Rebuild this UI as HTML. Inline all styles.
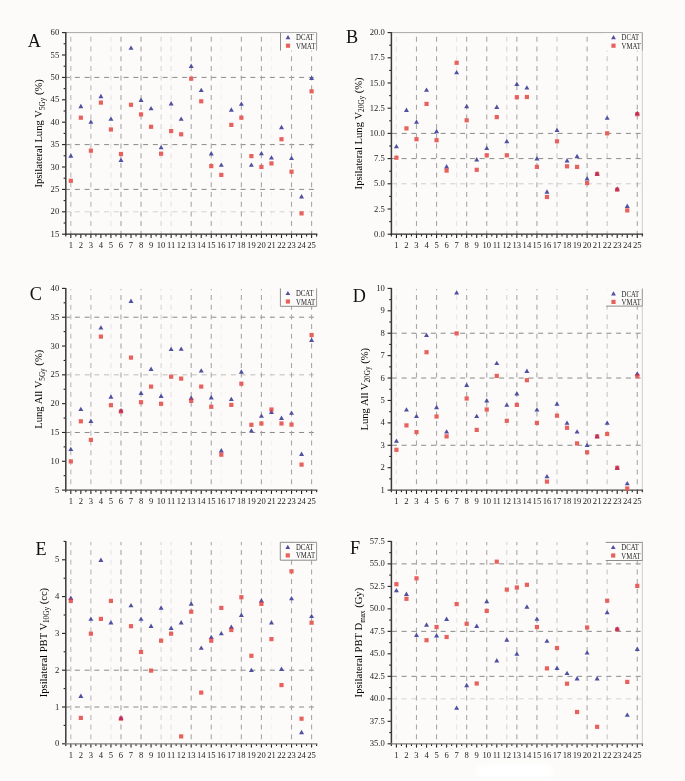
<!DOCTYPE html>
<html><head><meta charset="utf-8"><style>
html,body{margin:0;padding:0;background:#fcfbfa;}
svg{display:block;filter:blur(0.3px);}
text{font-family:"Liberation Serif",serif;}
</style></head><body>
<svg width="685" height="781" viewBox="0 0 685 781">
<defs><clipPath id="cB5"><rect x="444.50" y="168.50" width="4.2" height="4.2"/></clipPath><clipPath id="cB19"><rect x="585.00" y="180.90" width="4.2" height="4.2"/></clipPath><clipPath id="cB20"><rect x="595.04" y="171.80" width="4.2" height="4.2"/></clipPath><clipPath id="cB22"><rect x="615.11" y="187.60" width="4.2" height="4.2"/></clipPath><clipPath id="cB23"><rect x="625.15" y="208.30" width="4.2" height="4.2"/></clipPath><clipPath id="cB24"><rect x="635.18" y="112.10" width="4.2" height="4.2"/></clipPath><clipPath id="cC5"><rect x="118.88" y="409.30" width="4.2" height="4.2"/></clipPath><clipPath id="cC12"><rect x="189.10" y="398.80" width="4.2" height="4.2"/></clipPath><clipPath id="cC15"><rect x="219.20" y="452.60" width="4.2" height="4.2"/></clipPath><clipPath id="cC20"><rect x="269.36" y="407.40" width="4.2" height="4.2"/></clipPath><clipPath id="cD20"><rect x="595.04" y="434.30" width="4.2" height="4.2"/></clipPath><clipPath id="cD22"><rect x="615.11" y="465.70" width="4.2" height="4.2"/></clipPath><clipPath id="cD24"><rect x="635.18" y="374.10" width="4.2" height="4.2"/></clipPath><clipPath id="cE0"><rect x="68.72" y="598.80" width="4.2" height="4.2"/></clipPath><clipPath id="cE5"><rect x="118.88" y="716.60" width="4.2" height="4.2"/></clipPath><clipPath id="cE14"><rect x="209.16" y="638.60" width="4.2" height="4.2"/></clipPath><clipPath id="cE16"><rect x="229.23" y="627.90" width="4.2" height="4.2"/></clipPath><clipPath id="cE19"><rect x="259.32" y="601.80" width="4.2" height="4.2"/></clipPath><clipPath id="cF22"><rect x="615.11" y="627.30" width="4.2" height="4.2"/></clipPath></defs>
<rect x="0" y="0" width="685" height="781" fill="#fcfbfa"/>
<filter id="pb" x="-20%" y="-50%" width="140%" height="200%"><feGaussianBlur stdDeviation="2"/></filter><rect x="477" y="764" width="76" height="14" rx="7" fill="#ffffff" filter="url(#pb)"/>
<line x1="65.80" y1="77.40" x2="316.60" y2="77.40" stroke="#8a8a8a" stroke-width="1.0" stroke-dasharray="5 4.75" stroke-dashoffset="0.7" opacity="1"/>
<line x1="65.80" y1="144.60" x2="316.60" y2="144.60" stroke="#8a8a8a" stroke-width="1.0" stroke-dasharray="5 4.75" stroke-dashoffset="0.7" opacity="1"/>
<line x1="65.80" y1="189.40" x2="316.60" y2="189.40" stroke="#8a8a8a" stroke-width="1.0" stroke-dasharray="5 4.75" stroke-dashoffset="0.7" opacity="1"/>
<line x1="65.80" y1="211.80" x2="316.60" y2="211.80" stroke="#8a8a8a" stroke-width="1.0" stroke-dasharray="5 4.75" stroke-dashoffset="0.7" opacity="0.35"/>
<line x1="70.82" y1="33.20" x2="70.82" y2="234.20" stroke="#a8a8a8" stroke-width="1.1" stroke-dasharray="5 4.7" stroke-dashoffset="-3.60" opacity="0.8"/>
<line x1="90.88" y1="33.20" x2="90.88" y2="234.20" stroke="#a8a8a8" stroke-width="1.1" stroke-dasharray="5 4.7" stroke-dashoffset="-3.60" opacity="0.8"/>
<line x1="110.94" y1="33.20" x2="110.94" y2="234.20" stroke="#a8a8a8" stroke-width="1.1" stroke-dasharray="5 4.7" stroke-dashoffset="-3.60" opacity="0.25"/>
<line x1="120.98" y1="33.20" x2="120.98" y2="234.20" stroke="#a8a8a8" stroke-width="1.1" stroke-dasharray="5 4.7" stroke-dashoffset="-3.60" opacity="1"/>
<line x1="141.04" y1="33.20" x2="141.04" y2="234.20" stroke="#a8a8a8" stroke-width="1.1" stroke-dasharray="5 4.7" stroke-dashoffset="-3.60" opacity="1"/>
<line x1="161.10" y1="33.20" x2="161.10" y2="234.20" stroke="#a8a8a8" stroke-width="1.1" stroke-dasharray="5 4.7" stroke-dashoffset="-3.60" opacity="0.45"/>
<line x1="171.14" y1="33.20" x2="171.14" y2="234.20" stroke="#a8a8a8" stroke-width="1.1" stroke-dasharray="5 4.7" stroke-dashoffset="-3.60" opacity="0.3"/>
<line x1="191.20" y1="33.20" x2="191.20" y2="234.20" stroke="#a8a8a8" stroke-width="1.1" stroke-dasharray="5 4.7" stroke-dashoffset="-3.60" opacity="1"/>
<line x1="211.26" y1="33.20" x2="211.26" y2="234.20" stroke="#a8a8a8" stroke-width="1.1" stroke-dasharray="5 4.7" stroke-dashoffset="-3.60" opacity="1"/>
<line x1="221.30" y1="33.20" x2="221.30" y2="234.20" stroke="#a8a8a8" stroke-width="1.1" stroke-dasharray="5 4.7" stroke-dashoffset="-3.60" opacity="0.1"/>
<line x1="241.36" y1="33.20" x2="241.36" y2="234.20" stroke="#a8a8a8" stroke-width="1.1" stroke-dasharray="5 4.7" stroke-dashoffset="-3.60" opacity="1"/>
<line x1="261.42" y1="33.20" x2="261.42" y2="234.20" stroke="#a8a8a8" stroke-width="1.1" stroke-dasharray="5 4.7" stroke-dashoffset="-3.60" opacity="1"/>
<line x1="271.46" y1="33.20" x2="271.46" y2="234.20" stroke="#a8a8a8" stroke-width="1.1" stroke-dasharray="5 4.7" stroke-dashoffset="-3.60" opacity="0.1"/>
<line x1="291.52" y1="33.20" x2="291.52" y2="234.20" stroke="#a8a8a8" stroke-width="1.1" stroke-dasharray="5 4.7" stroke-dashoffset="-3.60" opacity="1"/>
<line x1="311.58" y1="33.20" x2="311.58" y2="234.20" stroke="#a8a8a8" stroke-width="1.1" stroke-dasharray="5 4.7" stroke-dashoffset="-3.60" opacity="1"/>
<line x1="65.80" y1="32.60" x2="316.60" y2="32.60" stroke="#a8a8a8" stroke-width="1"/>
<rect x="280.50" y="33.10" width="36.10" height="17.50" fill="#fcfbfa"/>
<line x1="280.50" y1="32.60" x2="280.50" y2="50.60" stroke="#8c8c8c" stroke-width="1"/>
<line x1="316.60" y1="32.60" x2="316.60" y2="50.60" stroke="#9a9a9a" stroke-width="1"/>
<polygon points="285.60,39.30 290.40,39.30 288.00,35.10" fill="#4f50a0"/>
<rect x="285.90" y="43.60" width="4.2" height="4.2" fill="#e8625d"/>
<text x="296.10" y="40.30" font-size="7.2" fill="#222" textLength="17.6" lengthAdjust="spacingAndGlyphs">DCAT</text>
<text x="296.10" y="48.70" font-size="7.2" fill="#222" textLength="19.2" lengthAdjust="spacingAndGlyphs">VMAT</text>
<line x1="62.00" y1="234.20" x2="65.80" y2="234.20" stroke="#222" stroke-width="1.1"/>
<text x="59.20" y="236.80" font-size="8.6" text-anchor="end" fill="#222">15</text>
<line x1="63.60" y1="223.00" x2="65.80" y2="223.00" stroke="#222" stroke-width="1.1"/>
<line x1="62.00" y1="211.80" x2="65.80" y2="211.80" stroke="#222" stroke-width="1.1"/>
<text x="59.20" y="214.40" font-size="8.6" text-anchor="end" fill="#222">20</text>
<line x1="63.60" y1="200.60" x2="65.80" y2="200.60" stroke="#222" stroke-width="1.1"/>
<line x1="62.00" y1="189.40" x2="65.80" y2="189.40" stroke="#222" stroke-width="1.1"/>
<text x="59.20" y="192.00" font-size="8.6" text-anchor="end" fill="#222">25</text>
<line x1="63.60" y1="178.20" x2="65.80" y2="178.20" stroke="#222" stroke-width="1.1"/>
<line x1="62.00" y1="167.00" x2="65.80" y2="167.00" stroke="#222" stroke-width="1.1"/>
<text x="59.20" y="169.60" font-size="8.6" text-anchor="end" fill="#222">30</text>
<line x1="63.60" y1="155.80" x2="65.80" y2="155.80" stroke="#222" stroke-width="1.1"/>
<line x1="62.00" y1="144.60" x2="65.80" y2="144.60" stroke="#222" stroke-width="1.1"/>
<text x="59.20" y="147.20" font-size="8.6" text-anchor="end" fill="#222">35</text>
<line x1="63.60" y1="133.40" x2="65.80" y2="133.40" stroke="#222" stroke-width="1.1"/>
<line x1="62.00" y1="122.20" x2="65.80" y2="122.20" stroke="#222" stroke-width="1.1"/>
<text x="59.20" y="124.80" font-size="8.6" text-anchor="end" fill="#222">40</text>
<line x1="63.60" y1="111.00" x2="65.80" y2="111.00" stroke="#222" stroke-width="1.1"/>
<line x1="62.00" y1="99.80" x2="65.80" y2="99.80" stroke="#222" stroke-width="1.1"/>
<text x="59.20" y="102.40" font-size="8.6" text-anchor="end" fill="#222">45</text>
<line x1="63.60" y1="88.60" x2="65.80" y2="88.60" stroke="#222" stroke-width="1.1"/>
<line x1="62.00" y1="77.40" x2="65.80" y2="77.40" stroke="#222" stroke-width="1.1"/>
<text x="59.20" y="80.00" font-size="8.6" text-anchor="end" fill="#222">50</text>
<line x1="63.60" y1="66.20" x2="65.80" y2="66.20" stroke="#222" stroke-width="1.1"/>
<line x1="62.00" y1="55.00" x2="65.80" y2="55.00" stroke="#222" stroke-width="1.1"/>
<text x="59.20" y="57.60" font-size="8.6" text-anchor="end" fill="#222">55</text>
<line x1="63.60" y1="43.80" x2="65.80" y2="43.80" stroke="#222" stroke-width="1.1"/>
<line x1="62.00" y1="32.60" x2="65.80" y2="32.60" stroke="#222" stroke-width="1.1"/>
<text x="59.20" y="35.20" font-size="8.6" text-anchor="end" fill="#222">60</text>
<line x1="65.80" y1="234.20" x2="65.80" y2="236.40" stroke="#222" stroke-width="1.1"/>
<line x1="70.82" y1="234.20" x2="70.82" y2="238.00" stroke="#222" stroke-width="1.1"/>
<text x="70.82" y="248.20" font-size="8.6" text-anchor="middle" fill="#222">1</text>
<line x1="75.83" y1="234.20" x2="75.83" y2="236.40" stroke="#222" stroke-width="1.1"/>
<line x1="80.85" y1="234.20" x2="80.85" y2="238.00" stroke="#222" stroke-width="1.1"/>
<text x="80.85" y="248.20" font-size="8.6" text-anchor="middle" fill="#222">2</text>
<line x1="85.86" y1="234.20" x2="85.86" y2="236.40" stroke="#222" stroke-width="1.1"/>
<line x1="90.88" y1="234.20" x2="90.88" y2="238.00" stroke="#222" stroke-width="1.1"/>
<text x="90.88" y="248.20" font-size="8.6" text-anchor="middle" fill="#222">3</text>
<line x1="95.90" y1="234.20" x2="95.90" y2="236.40" stroke="#222" stroke-width="1.1"/>
<line x1="100.91" y1="234.20" x2="100.91" y2="238.00" stroke="#222" stroke-width="1.1"/>
<text x="100.91" y="248.20" font-size="8.6" text-anchor="middle" fill="#222">4</text>
<line x1="105.93" y1="234.20" x2="105.93" y2="236.40" stroke="#222" stroke-width="1.1"/>
<line x1="110.94" y1="234.20" x2="110.94" y2="238.00" stroke="#222" stroke-width="1.1"/>
<text x="110.94" y="248.20" font-size="8.6" text-anchor="middle" fill="#222">5</text>
<line x1="115.96" y1="234.20" x2="115.96" y2="236.40" stroke="#222" stroke-width="1.1"/>
<line x1="120.98" y1="234.20" x2="120.98" y2="238.00" stroke="#222" stroke-width="1.1"/>
<text x="120.98" y="248.20" font-size="8.6" text-anchor="middle" fill="#222">6</text>
<line x1="125.99" y1="234.20" x2="125.99" y2="236.40" stroke="#222" stroke-width="1.1"/>
<line x1="131.01" y1="234.20" x2="131.01" y2="238.00" stroke="#222" stroke-width="1.1"/>
<text x="131.01" y="248.20" font-size="8.6" text-anchor="middle" fill="#222">7</text>
<line x1="136.02" y1="234.20" x2="136.02" y2="236.40" stroke="#222" stroke-width="1.1"/>
<line x1="141.04" y1="234.20" x2="141.04" y2="238.00" stroke="#222" stroke-width="1.1"/>
<text x="141.04" y="248.20" font-size="8.6" text-anchor="middle" fill="#222">8</text>
<line x1="146.06" y1="234.20" x2="146.06" y2="236.40" stroke="#222" stroke-width="1.1"/>
<line x1="151.07" y1="234.20" x2="151.07" y2="238.00" stroke="#222" stroke-width="1.1"/>
<text x="151.07" y="248.20" font-size="8.6" text-anchor="middle" fill="#222">9</text>
<line x1="156.09" y1="234.20" x2="156.09" y2="236.40" stroke="#222" stroke-width="1.1"/>
<line x1="161.10" y1="234.20" x2="161.10" y2="238.00" stroke="#222" stroke-width="1.1"/>
<text x="161.10" y="248.20" font-size="8.6" text-anchor="middle" fill="#222">10</text>
<line x1="166.12" y1="234.20" x2="166.12" y2="236.40" stroke="#222" stroke-width="1.1"/>
<line x1="171.14" y1="234.20" x2="171.14" y2="238.00" stroke="#222" stroke-width="1.1"/>
<text x="171.14" y="248.20" font-size="8.6" text-anchor="middle" fill="#222">11</text>
<line x1="176.15" y1="234.20" x2="176.15" y2="236.40" stroke="#222" stroke-width="1.1"/>
<line x1="181.17" y1="234.20" x2="181.17" y2="238.00" stroke="#222" stroke-width="1.1"/>
<text x="181.17" y="248.20" font-size="8.6" text-anchor="middle" fill="#222">12</text>
<line x1="186.18" y1="234.20" x2="186.18" y2="236.40" stroke="#222" stroke-width="1.1"/>
<line x1="191.20" y1="234.20" x2="191.20" y2="238.00" stroke="#222" stroke-width="1.1"/>
<text x="191.20" y="248.20" font-size="8.6" text-anchor="middle" fill="#222">13</text>
<line x1="196.22" y1="234.20" x2="196.22" y2="236.40" stroke="#222" stroke-width="1.1"/>
<line x1="201.23" y1="234.20" x2="201.23" y2="238.00" stroke="#222" stroke-width="1.1"/>
<text x="201.23" y="248.20" font-size="8.6" text-anchor="middle" fill="#222">14</text>
<line x1="206.25" y1="234.20" x2="206.25" y2="236.40" stroke="#222" stroke-width="1.1"/>
<line x1="211.26" y1="234.20" x2="211.26" y2="238.00" stroke="#222" stroke-width="1.1"/>
<text x="211.26" y="248.20" font-size="8.6" text-anchor="middle" fill="#222">15</text>
<line x1="216.28" y1="234.20" x2="216.28" y2="236.40" stroke="#222" stroke-width="1.1"/>
<line x1="221.30" y1="234.20" x2="221.30" y2="238.00" stroke="#222" stroke-width="1.1"/>
<text x="221.30" y="248.20" font-size="8.6" text-anchor="middle" fill="#222">16</text>
<line x1="226.31" y1="234.20" x2="226.31" y2="236.40" stroke="#222" stroke-width="1.1"/>
<line x1="231.33" y1="234.20" x2="231.33" y2="238.00" stroke="#222" stroke-width="1.1"/>
<text x="231.33" y="248.20" font-size="8.6" text-anchor="middle" fill="#222">17</text>
<line x1="236.34" y1="234.20" x2="236.34" y2="236.40" stroke="#222" stroke-width="1.1"/>
<line x1="241.36" y1="234.20" x2="241.36" y2="238.00" stroke="#222" stroke-width="1.1"/>
<text x="241.36" y="248.20" font-size="8.6" text-anchor="middle" fill="#222">18</text>
<line x1="246.38" y1="234.20" x2="246.38" y2="236.40" stroke="#222" stroke-width="1.1"/>
<line x1="251.39" y1="234.20" x2="251.39" y2="238.00" stroke="#222" stroke-width="1.1"/>
<text x="251.39" y="248.20" font-size="8.6" text-anchor="middle" fill="#222">19</text>
<line x1="256.41" y1="234.20" x2="256.41" y2="236.40" stroke="#222" stroke-width="1.1"/>
<line x1="261.42" y1="234.20" x2="261.42" y2="238.00" stroke="#222" stroke-width="1.1"/>
<text x="261.42" y="248.20" font-size="8.6" text-anchor="middle" fill="#222">20</text>
<line x1="266.44" y1="234.20" x2="266.44" y2="236.40" stroke="#222" stroke-width="1.1"/>
<line x1="271.46" y1="234.20" x2="271.46" y2="238.00" stroke="#222" stroke-width="1.1"/>
<text x="271.46" y="248.20" font-size="8.6" text-anchor="middle" fill="#222">21</text>
<line x1="276.47" y1="234.20" x2="276.47" y2="236.40" stroke="#222" stroke-width="1.1"/>
<line x1="281.49" y1="234.20" x2="281.49" y2="238.00" stroke="#222" stroke-width="1.1"/>
<text x="281.49" y="248.20" font-size="8.6" text-anchor="middle" fill="#222">22</text>
<line x1="286.50" y1="234.20" x2="286.50" y2="236.40" stroke="#222" stroke-width="1.1"/>
<line x1="291.52" y1="234.20" x2="291.52" y2="238.00" stroke="#222" stroke-width="1.1"/>
<text x="291.52" y="248.20" font-size="8.6" text-anchor="middle" fill="#222">23</text>
<line x1="296.54" y1="234.20" x2="296.54" y2="236.40" stroke="#222" stroke-width="1.1"/>
<line x1="301.55" y1="234.20" x2="301.55" y2="238.00" stroke="#222" stroke-width="1.1"/>
<text x="301.55" y="248.20" font-size="8.6" text-anchor="middle" fill="#222">24</text>
<line x1="306.57" y1="234.20" x2="306.57" y2="236.40" stroke="#222" stroke-width="1.1"/>
<line x1="311.58" y1="234.20" x2="311.58" y2="238.00" stroke="#222" stroke-width="1.1"/>
<text x="311.58" y="248.20" font-size="8.6" text-anchor="middle" fill="#222">25</text>
<line x1="316.60" y1="234.20" x2="316.60" y2="236.40" stroke="#222" stroke-width="1.1"/>
<line x1="65.80" y1="32.10" x2="65.80" y2="234.80" stroke="#3a3a3a" stroke-width="1.5"/>
<line x1="65.00" y1="234.20" x2="317.40" y2="234.20" stroke="#2a2a2a" stroke-width="1.3"/>
<polygon points="68.32,157.70 73.32,157.70 70.82,153.30" fill="#4f50a0"/>
<polygon points="78.35,108.20 83.35,108.20 80.85,103.80" fill="#4f50a0"/>
<polygon points="88.38,123.80 93.38,123.80 90.88,119.40" fill="#4f50a0"/>
<polygon points="98.41,98.20 103.41,98.20 100.91,93.80" fill="#4f50a0"/>
<polygon points="108.44,120.80 113.44,120.80 110.94,116.40" fill="#4f50a0"/>
<polygon points="118.48,162.00 123.48,162.00 120.98,157.60" fill="#4f50a0"/>
<polygon points="128.51,49.80 133.51,49.80 131.01,45.40" fill="#4f50a0"/>
<polygon points="138.54,102.00 143.54,102.00 141.04,97.60" fill="#4f50a0"/>
<polygon points="148.57,110.30 153.57,110.30 151.07,105.90" fill="#4f50a0"/>
<polygon points="158.60,149.30 163.60,149.30 161.10,144.90" fill="#4f50a0"/>
<polygon points="168.64,105.50 173.64,105.50 171.14,101.10" fill="#4f50a0"/>
<polygon points="178.67,120.80 183.67,120.80 181.17,116.40" fill="#4f50a0"/>
<polygon points="188.70,67.90 193.70,67.90 191.20,63.50" fill="#4f50a0"/>
<polygon points="198.73,92.10 203.73,92.10 201.23,87.70" fill="#4f50a0"/>
<polygon points="208.76,155.50 213.76,155.50 211.26,151.10" fill="#4f50a0"/>
<polygon points="218.80,166.80 223.80,166.80 221.30,162.40" fill="#4f50a0"/>
<polygon points="228.83,111.70 233.83,111.70 231.33,107.30" fill="#4f50a0"/>
<polygon points="238.86,105.80 243.86,105.80 241.36,101.40" fill="#4f50a0"/>
<polygon points="248.89,166.80 253.89,166.80 251.39,162.40" fill="#4f50a0"/>
<polygon points="258.92,155.30 263.92,155.30 261.42,150.90" fill="#4f50a0"/>
<polygon points="268.96,159.60 273.96,159.60 271.46,155.20" fill="#4f50a0"/>
<polygon points="278.99,129.20 283.99,129.20 281.49,124.80" fill="#4f50a0"/>
<polygon points="289.02,160.10 294.02,160.10 291.52,155.70" fill="#4f50a0"/>
<polygon points="299.05,198.50 304.05,198.50 301.55,194.10" fill="#4f50a0"/>
<polygon points="309.08,80.00 314.08,80.00 311.58,75.60" fill="#4f50a0"/>
<rect x="68.72" y="178.70" width="4.2" height="4.2" fill="#e8625d"/>
<rect x="78.75" y="115.60" width="4.2" height="4.2" fill="#e8625d"/>
<rect x="88.78" y="148.60" width="4.2" height="4.2" fill="#e8625d"/>
<rect x="98.81" y="100.50" width="4.2" height="4.2" fill="#e8625d"/>
<rect x="108.84" y="127.40" width="4.2" height="4.2" fill="#e8625d"/>
<rect x="118.88" y="151.90" width="4.2" height="4.2" fill="#e8625d"/>
<rect x="128.91" y="102.70" width="4.2" height="4.2" fill="#e8625d"/>
<rect x="138.94" y="112.30" width="4.2" height="4.2" fill="#e8625d"/>
<rect x="148.97" y="124.70" width="4.2" height="4.2" fill="#e8625d"/>
<rect x="159.00" y="151.60" width="4.2" height="4.2" fill="#e8625d"/>
<rect x="169.04" y="129.00" width="4.2" height="4.2" fill="#e8625d"/>
<rect x="179.07" y="132.20" width="4.2" height="4.2" fill="#e8625d"/>
<rect x="189.10" y="76.60" width="4.2" height="4.2" fill="#e8625d"/>
<rect x="199.13" y="99.20" width="4.2" height="4.2" fill="#e8625d"/>
<rect x="209.16" y="164.00" width="4.2" height="4.2" fill="#e8625d"/>
<rect x="219.20" y="172.80" width="4.2" height="4.2" fill="#e8625d"/>
<rect x="229.23" y="122.80" width="4.2" height="4.2" fill="#e8625d"/>
<rect x="239.26" y="115.60" width="4.2" height="4.2" fill="#e8625d"/>
<rect x="249.29" y="154.00" width="4.2" height="4.2" fill="#e8625d"/>
<rect x="259.32" y="164.80" width="4.2" height="4.2" fill="#e8625d"/>
<rect x="269.36" y="161.30" width="4.2" height="4.2" fill="#e8625d"/>
<rect x="279.39" y="137.10" width="4.2" height="4.2" fill="#e8625d"/>
<rect x="289.42" y="169.60" width="4.2" height="4.2" fill="#e8625d"/>
<rect x="299.45" y="211.30" width="4.2" height="4.2" fill="#e8625d"/>
<rect x="309.48" y="89.20" width="4.2" height="4.2" fill="#e8625d"/>
<text transform="translate(42.30,133.40) rotate(-90)" text-anchor="middle" font-size="10.6" fill="#000">Ipsilateral Lung V<tspan font-size="7.2" dy="2.3">5Gy</tspan><tspan dy="-2.3"> (%)</tspan></text>
<text x="27.80" y="46.70" font-size="18.2" fill="#111">A</text>
<line x1="391.40" y1="133.40" x2="642.30" y2="133.40" stroke="#8a8a8a" stroke-width="1.0" stroke-dasharray="5 4.75" stroke-dashoffset="-0.5" opacity="1"/>
<line x1="391.40" y1="158.60" x2="642.30" y2="158.60" stroke="#8a8a8a" stroke-width="1.0" stroke-dasharray="5 4.75" stroke-dashoffset="-0.5" opacity="1"/>
<line x1="391.40" y1="183.80" x2="642.30" y2="183.80" stroke="#8a8a8a" stroke-width="1.0" stroke-dasharray="5 4.75" stroke-dashoffset="-0.5" opacity="0.4"/>
<line x1="396.42" y1="33.20" x2="396.42" y2="234.20" stroke="#a8a8a8" stroke-width="1.1" stroke-dasharray="5 4.7" stroke-dashoffset="-3.60" opacity="0.25"/>
<line x1="416.49" y1="33.20" x2="416.49" y2="234.20" stroke="#a8a8a8" stroke-width="1.1" stroke-dasharray="5 4.7" stroke-dashoffset="-3.60" opacity="1"/>
<line x1="436.56" y1="33.20" x2="436.56" y2="234.20" stroke="#a8a8a8" stroke-width="1.1" stroke-dasharray="5 4.7" stroke-dashoffset="-3.60" opacity="1"/>
<line x1="456.63" y1="33.20" x2="456.63" y2="234.20" stroke="#a8a8a8" stroke-width="1.1" stroke-dasharray="5 4.7" stroke-dashoffset="-3.60" opacity="0.25"/>
<line x1="466.67" y1="33.20" x2="466.67" y2="234.20" stroke="#a8a8a8" stroke-width="1.1" stroke-dasharray="5 4.7" stroke-dashoffset="-3.60" opacity="1"/>
<line x1="486.74" y1="33.20" x2="486.74" y2="234.20" stroke="#a8a8a8" stroke-width="1.1" stroke-dasharray="5 4.7" stroke-dashoffset="-3.60" opacity="1"/>
<line x1="506.81" y1="33.20" x2="506.81" y2="234.20" stroke="#a8a8a8" stroke-width="1.1" stroke-dasharray="5 4.7" stroke-dashoffset="-3.60" opacity="0.45"/>
<line x1="516.85" y1="33.20" x2="516.85" y2="234.20" stroke="#a8a8a8" stroke-width="1.1" stroke-dasharray="5 4.7" stroke-dashoffset="-3.60" opacity="1"/>
<line x1="536.92" y1="33.20" x2="536.92" y2="234.20" stroke="#a8a8a8" stroke-width="1.1" stroke-dasharray="5 4.7" stroke-dashoffset="-3.60" opacity="1"/>
<line x1="556.99" y1="33.20" x2="556.99" y2="234.20" stroke="#a8a8a8" stroke-width="1.1" stroke-dasharray="5 4.7" stroke-dashoffset="-3.60" opacity="0.6"/>
<line x1="587.10" y1="33.20" x2="587.10" y2="234.20" stroke="#a8a8a8" stroke-width="1.1" stroke-dasharray="5 4.7" stroke-dashoffset="-3.60" opacity="1"/>
<line x1="607.17" y1="33.20" x2="607.17" y2="234.20" stroke="#a8a8a8" stroke-width="1.1" stroke-dasharray="5 4.7" stroke-dashoffset="-3.60" opacity="0.6"/>
<line x1="637.28" y1="33.20" x2="637.28" y2="234.20" stroke="#a8a8a8" stroke-width="1.1" stroke-dasharray="5 4.7" stroke-dashoffset="-3.60" opacity="1"/>
<line x1="391.40" y1="32.60" x2="642.30" y2="32.60" stroke="#a8a8a8" stroke-width="1"/>
<line x1="642.30" y1="32.60" x2="642.30" y2="234.20" stroke="#cfcfcf" stroke-width="1"/>
<rect x="606.00" y="33.10" width="36.30" height="17.50" fill="#fcfbfa"/>
<line x1="642.30" y1="32.60" x2="642.30" y2="50.60" stroke="#9a9a9a" stroke-width="1"/>
<polygon points="611.10,39.30 615.90,39.30 613.50,35.10" fill="#4f50a0"/>
<rect x="611.40" y="43.60" width="4.2" height="4.2" fill="#e8625d"/>
<text x="621.60" y="40.30" font-size="7.2" fill="#222" textLength="17.6" lengthAdjust="spacingAndGlyphs">DCAT</text>
<text x="621.60" y="48.70" font-size="7.2" fill="#222" textLength="19.2" lengthAdjust="spacingAndGlyphs">VMAT</text>
<line x1="387.60" y1="234.20" x2="391.40" y2="234.20" stroke="#222" stroke-width="1.1"/>
<text x="384.80" y="236.80" font-size="8.6" text-anchor="end" fill="#222">0.0</text>
<line x1="389.20" y1="221.60" x2="391.40" y2="221.60" stroke="#222" stroke-width="1.1"/>
<line x1="387.60" y1="209.00" x2="391.40" y2="209.00" stroke="#222" stroke-width="1.1"/>
<text x="384.80" y="211.60" font-size="8.6" text-anchor="end" fill="#222">2.5</text>
<line x1="389.20" y1="196.40" x2="391.40" y2="196.40" stroke="#222" stroke-width="1.1"/>
<line x1="387.60" y1="183.80" x2="391.40" y2="183.80" stroke="#222" stroke-width="1.1"/>
<text x="384.80" y="186.40" font-size="8.6" text-anchor="end" fill="#222">5.0</text>
<line x1="389.20" y1="171.20" x2="391.40" y2="171.20" stroke="#222" stroke-width="1.1"/>
<line x1="387.60" y1="158.60" x2="391.40" y2="158.60" stroke="#222" stroke-width="1.1"/>
<text x="384.80" y="161.20" font-size="8.6" text-anchor="end" fill="#222">7.5</text>
<line x1="389.20" y1="146.00" x2="391.40" y2="146.00" stroke="#222" stroke-width="1.1"/>
<line x1="387.60" y1="133.40" x2="391.40" y2="133.40" stroke="#222" stroke-width="1.1"/>
<text x="384.80" y="136.00" font-size="8.6" text-anchor="end" fill="#222">10.0</text>
<line x1="389.20" y1="120.80" x2="391.40" y2="120.80" stroke="#222" stroke-width="1.1"/>
<line x1="387.60" y1="108.20" x2="391.40" y2="108.20" stroke="#222" stroke-width="1.1"/>
<text x="384.80" y="110.80" font-size="8.6" text-anchor="end" fill="#222">12.5</text>
<line x1="389.20" y1="95.60" x2="391.40" y2="95.60" stroke="#222" stroke-width="1.1"/>
<line x1="387.60" y1="83.00" x2="391.40" y2="83.00" stroke="#222" stroke-width="1.1"/>
<text x="384.80" y="85.60" font-size="8.6" text-anchor="end" fill="#222">15.0</text>
<line x1="389.20" y1="70.40" x2="391.40" y2="70.40" stroke="#222" stroke-width="1.1"/>
<line x1="387.60" y1="57.80" x2="391.40" y2="57.80" stroke="#222" stroke-width="1.1"/>
<text x="384.80" y="60.40" font-size="8.6" text-anchor="end" fill="#222">17.5</text>
<line x1="389.20" y1="45.20" x2="391.40" y2="45.20" stroke="#222" stroke-width="1.1"/>
<line x1="387.60" y1="32.60" x2="391.40" y2="32.60" stroke="#222" stroke-width="1.1"/>
<text x="384.80" y="35.20" font-size="8.6" text-anchor="end" fill="#222">20.0</text>
<line x1="391.40" y1="234.20" x2="391.40" y2="236.40" stroke="#222" stroke-width="1.1"/>
<line x1="396.42" y1="234.20" x2="396.42" y2="238.00" stroke="#222" stroke-width="1.1"/>
<text x="396.42" y="248.20" font-size="8.6" text-anchor="middle" fill="#222">1</text>
<line x1="401.44" y1="234.20" x2="401.44" y2="236.40" stroke="#222" stroke-width="1.1"/>
<line x1="406.45" y1="234.20" x2="406.45" y2="238.00" stroke="#222" stroke-width="1.1"/>
<text x="406.45" y="248.20" font-size="8.6" text-anchor="middle" fill="#222">2</text>
<line x1="411.47" y1="234.20" x2="411.47" y2="236.40" stroke="#222" stroke-width="1.1"/>
<line x1="416.49" y1="234.20" x2="416.49" y2="238.00" stroke="#222" stroke-width="1.1"/>
<text x="416.49" y="248.20" font-size="8.6" text-anchor="middle" fill="#222">3</text>
<line x1="421.51" y1="234.20" x2="421.51" y2="236.40" stroke="#222" stroke-width="1.1"/>
<line x1="426.53" y1="234.20" x2="426.53" y2="238.00" stroke="#222" stroke-width="1.1"/>
<text x="426.53" y="248.20" font-size="8.6" text-anchor="middle" fill="#222">4</text>
<line x1="431.54" y1="234.20" x2="431.54" y2="236.40" stroke="#222" stroke-width="1.1"/>
<line x1="436.56" y1="234.20" x2="436.56" y2="238.00" stroke="#222" stroke-width="1.1"/>
<text x="436.56" y="248.20" font-size="8.6" text-anchor="middle" fill="#222">5</text>
<line x1="441.58" y1="234.20" x2="441.58" y2="236.40" stroke="#222" stroke-width="1.1"/>
<line x1="446.60" y1="234.20" x2="446.60" y2="238.00" stroke="#222" stroke-width="1.1"/>
<text x="446.60" y="248.20" font-size="8.6" text-anchor="middle" fill="#222">6</text>
<line x1="451.62" y1="234.20" x2="451.62" y2="236.40" stroke="#222" stroke-width="1.1"/>
<line x1="456.63" y1="234.20" x2="456.63" y2="238.00" stroke="#222" stroke-width="1.1"/>
<text x="456.63" y="248.20" font-size="8.6" text-anchor="middle" fill="#222">7</text>
<line x1="461.65" y1="234.20" x2="461.65" y2="236.40" stroke="#222" stroke-width="1.1"/>
<line x1="466.67" y1="234.20" x2="466.67" y2="238.00" stroke="#222" stroke-width="1.1"/>
<text x="466.67" y="248.20" font-size="8.6" text-anchor="middle" fill="#222">8</text>
<line x1="471.69" y1="234.20" x2="471.69" y2="236.40" stroke="#222" stroke-width="1.1"/>
<line x1="476.71" y1="234.20" x2="476.71" y2="238.00" stroke="#222" stroke-width="1.1"/>
<text x="476.71" y="248.20" font-size="8.6" text-anchor="middle" fill="#222">9</text>
<line x1="481.72" y1="234.20" x2="481.72" y2="236.40" stroke="#222" stroke-width="1.1"/>
<line x1="486.74" y1="234.20" x2="486.74" y2="238.00" stroke="#222" stroke-width="1.1"/>
<text x="486.74" y="248.20" font-size="8.6" text-anchor="middle" fill="#222">10</text>
<line x1="491.76" y1="234.20" x2="491.76" y2="236.40" stroke="#222" stroke-width="1.1"/>
<line x1="496.78" y1="234.20" x2="496.78" y2="238.00" stroke="#222" stroke-width="1.1"/>
<text x="496.78" y="248.20" font-size="8.6" text-anchor="middle" fill="#222">11</text>
<line x1="501.80" y1="234.20" x2="501.80" y2="236.40" stroke="#222" stroke-width="1.1"/>
<line x1="506.81" y1="234.20" x2="506.81" y2="238.00" stroke="#222" stroke-width="1.1"/>
<text x="506.81" y="248.20" font-size="8.6" text-anchor="middle" fill="#222">12</text>
<line x1="511.83" y1="234.20" x2="511.83" y2="236.40" stroke="#222" stroke-width="1.1"/>
<line x1="516.85" y1="234.20" x2="516.85" y2="238.00" stroke="#222" stroke-width="1.1"/>
<text x="516.85" y="248.20" font-size="8.6" text-anchor="middle" fill="#222">13</text>
<line x1="521.87" y1="234.20" x2="521.87" y2="236.40" stroke="#222" stroke-width="1.1"/>
<line x1="526.89" y1="234.20" x2="526.89" y2="238.00" stroke="#222" stroke-width="1.1"/>
<text x="526.89" y="248.20" font-size="8.6" text-anchor="middle" fill="#222">14</text>
<line x1="531.90" y1="234.20" x2="531.90" y2="236.40" stroke="#222" stroke-width="1.1"/>
<line x1="536.92" y1="234.20" x2="536.92" y2="238.00" stroke="#222" stroke-width="1.1"/>
<text x="536.92" y="248.20" font-size="8.6" text-anchor="middle" fill="#222">15</text>
<line x1="541.94" y1="234.20" x2="541.94" y2="236.40" stroke="#222" stroke-width="1.1"/>
<line x1="546.96" y1="234.20" x2="546.96" y2="238.00" stroke="#222" stroke-width="1.1"/>
<text x="546.96" y="248.20" font-size="8.6" text-anchor="middle" fill="#222">16</text>
<line x1="551.98" y1="234.20" x2="551.98" y2="236.40" stroke="#222" stroke-width="1.1"/>
<line x1="556.99" y1="234.20" x2="556.99" y2="238.00" stroke="#222" stroke-width="1.1"/>
<text x="556.99" y="248.20" font-size="8.6" text-anchor="middle" fill="#222">17</text>
<line x1="562.01" y1="234.20" x2="562.01" y2="236.40" stroke="#222" stroke-width="1.1"/>
<line x1="567.03" y1="234.20" x2="567.03" y2="238.00" stroke="#222" stroke-width="1.1"/>
<text x="567.03" y="248.20" font-size="8.6" text-anchor="middle" fill="#222">18</text>
<line x1="572.05" y1="234.20" x2="572.05" y2="236.40" stroke="#222" stroke-width="1.1"/>
<line x1="577.07" y1="234.20" x2="577.07" y2="238.00" stroke="#222" stroke-width="1.1"/>
<text x="577.07" y="248.20" font-size="8.6" text-anchor="middle" fill="#222">19</text>
<line x1="582.08" y1="234.20" x2="582.08" y2="236.40" stroke="#222" stroke-width="1.1"/>
<line x1="587.10" y1="234.20" x2="587.10" y2="238.00" stroke="#222" stroke-width="1.1"/>
<text x="587.10" y="248.20" font-size="8.6" text-anchor="middle" fill="#222">20</text>
<line x1="592.12" y1="234.20" x2="592.12" y2="236.40" stroke="#222" stroke-width="1.1"/>
<line x1="597.14" y1="234.20" x2="597.14" y2="238.00" stroke="#222" stroke-width="1.1"/>
<text x="597.14" y="248.20" font-size="8.6" text-anchor="middle" fill="#222">21</text>
<line x1="602.16" y1="234.20" x2="602.16" y2="236.40" stroke="#222" stroke-width="1.1"/>
<line x1="607.17" y1="234.20" x2="607.17" y2="238.00" stroke="#222" stroke-width="1.1"/>
<text x="607.17" y="248.20" font-size="8.6" text-anchor="middle" fill="#222">22</text>
<line x1="612.19" y1="234.20" x2="612.19" y2="236.40" stroke="#222" stroke-width="1.1"/>
<line x1="617.21" y1="234.20" x2="617.21" y2="238.00" stroke="#222" stroke-width="1.1"/>
<text x="617.21" y="248.20" font-size="8.6" text-anchor="middle" fill="#222">23</text>
<line x1="622.23" y1="234.20" x2="622.23" y2="236.40" stroke="#222" stroke-width="1.1"/>
<line x1="627.25" y1="234.20" x2="627.25" y2="238.00" stroke="#222" stroke-width="1.1"/>
<text x="627.25" y="248.20" font-size="8.6" text-anchor="middle" fill="#222">24</text>
<line x1="632.26" y1="234.20" x2="632.26" y2="236.40" stroke="#222" stroke-width="1.1"/>
<line x1="637.28" y1="234.20" x2="637.28" y2="238.00" stroke="#222" stroke-width="1.1"/>
<text x="637.28" y="248.20" font-size="8.6" text-anchor="middle" fill="#222">25</text>
<line x1="642.30" y1="234.20" x2="642.30" y2="236.40" stroke="#222" stroke-width="1.1"/>
<line x1="391.40" y1="32.10" x2="391.40" y2="234.80" stroke="#3a3a3a" stroke-width="1.5"/>
<line x1="390.60" y1="234.20" x2="643.10" y2="234.20" stroke="#2a2a2a" stroke-width="1.3"/>
<polygon points="393.92,148.30 398.92,148.30 396.42,143.90" fill="#4f50a0"/>
<polygon points="403.95,112.00 408.95,112.00 406.45,107.60" fill="#4f50a0"/>
<polygon points="413.99,123.80 418.99,123.80 416.49,119.40" fill="#4f50a0"/>
<polygon points="424.03,91.80 429.03,91.80 426.53,87.40" fill="#4f50a0"/>
<polygon points="434.06,133.20 439.06,133.20 436.56,128.80" fill="#4f50a0"/>
<polygon points="444.10,168.40 449.10,168.40 446.60,164.00" fill="#4f50a0"/>
<polygon points="454.13,74.30 459.13,74.30 456.63,69.90" fill="#4f50a0"/>
<polygon points="464.17,108.20 469.17,108.20 466.67,103.80" fill="#4f50a0"/>
<polygon points="474.21,161.40 479.21,161.40 476.71,157.00" fill="#4f50a0"/>
<polygon points="484.24,150.10 489.24,150.10 486.74,145.70" fill="#4f50a0"/>
<polygon points="494.28,109.00 499.28,109.00 496.78,104.60" fill="#4f50a0"/>
<polygon points="504.31,143.20 509.31,143.20 506.81,138.80" fill="#4f50a0"/>
<polygon points="514.35,85.90 519.35,85.90 516.85,81.50" fill="#4f50a0"/>
<polygon points="524.39,89.60 529.39,89.60 526.89,85.20" fill="#4f50a0"/>
<polygon points="534.42,160.40 539.42,160.40 536.92,156.00" fill="#4f50a0"/>
<polygon points="544.46,193.70 549.46,193.70 546.96,189.30" fill="#4f50a0"/>
<polygon points="554.49,132.10 559.49,132.10 556.99,127.70" fill="#4f50a0"/>
<polygon points="564.53,162.50 569.53,162.50 567.03,158.10" fill="#4f50a0"/>
<polygon points="574.57,158.20 579.57,158.20 577.07,153.80" fill="#4f50a0"/>
<polygon points="584.60,180.50 589.60,180.50 587.10,176.10" fill="#4f50a0"/>
<polygon points="594.64,175.70 599.64,175.70 597.14,171.30" fill="#4f50a0"/>
<polygon points="604.67,119.80 609.67,119.80 607.17,115.40" fill="#4f50a0"/>
<polygon points="614.71,190.70 619.71,190.70 617.21,186.30" fill="#4f50a0"/>
<polygon points="624.75,208.00 629.75,208.00 627.25,203.60" fill="#4f50a0"/>
<polygon points="634.78,115.20 639.78,115.20 637.28,110.80" fill="#4f50a0"/>
<rect x="394.32" y="155.60" width="4.2" height="4.2" fill="#e8625d"/>
<rect x="404.35" y="126.30" width="4.2" height="4.2" fill="#e8625d"/>
<rect x="414.39" y="137.10" width="4.2" height="4.2" fill="#e8625d"/>
<rect x="424.43" y="101.80" width="4.2" height="4.2" fill="#e8625d"/>
<rect x="434.46" y="138.10" width="4.2" height="4.2" fill="#e8625d"/>
<rect x="444.50" y="168.50" width="4.2" height="4.2" fill="#e8625d"/>
<polygon points="444.10,168.40 449.10,168.40 446.60,164.00" fill="#be2d5c" clip-path="url(#cB5)"/>
<rect x="454.53" y="60.70" width="4.2" height="4.2" fill="#e8625d"/>
<rect x="464.57" y="118.20" width="4.2" height="4.2" fill="#e8625d"/>
<rect x="474.61" y="167.70" width="4.2" height="4.2" fill="#e8625d"/>
<rect x="484.64" y="153.20" width="4.2" height="4.2" fill="#e8625d"/>
<rect x="494.68" y="115.00" width="4.2" height="4.2" fill="#e8625d"/>
<rect x="504.71" y="153.20" width="4.2" height="4.2" fill="#e8625d"/>
<rect x="514.75" y="95.10" width="4.2" height="4.2" fill="#e8625d"/>
<rect x="524.79" y="94.90" width="4.2" height="4.2" fill="#e8625d"/>
<rect x="534.82" y="164.80" width="4.2" height="4.2" fill="#e8625d"/>
<rect x="544.86" y="194.90" width="4.2" height="4.2" fill="#e8625d"/>
<rect x="554.89" y="139.20" width="4.2" height="4.2" fill="#e8625d"/>
<rect x="564.93" y="164.20" width="4.2" height="4.2" fill="#e8625d"/>
<rect x="574.97" y="164.80" width="4.2" height="4.2" fill="#e8625d"/>
<rect x="585.00" y="180.90" width="4.2" height="4.2" fill="#e8625d"/>
<polygon points="584.60,180.50 589.60,180.50 587.10,176.10" fill="#be2d5c" clip-path="url(#cB19)"/>
<rect x="595.04" y="171.80" width="4.2" height="4.2" fill="#e8625d"/>
<polygon points="594.64,175.70 599.64,175.70 597.14,171.30" fill="#be2d5c" clip-path="url(#cB20)"/>
<rect x="605.07" y="131.20" width="4.2" height="4.2" fill="#e8625d"/>
<rect x="615.11" y="187.60" width="4.2" height="4.2" fill="#e8625d"/>
<polygon points="614.71,190.70 619.71,190.70 617.21,186.30" fill="#be2d5c" clip-path="url(#cB22)"/>
<rect x="625.15" y="208.30" width="4.2" height="4.2" fill="#e8625d"/>
<polygon points="624.75,208.00 629.75,208.00 627.25,203.60" fill="#be2d5c" clip-path="url(#cB23)"/>
<rect x="635.18" y="112.10" width="4.2" height="4.2" fill="#e8625d"/>
<polygon points="634.78,115.20 639.78,115.20 637.28,110.80" fill="#be2d5c" clip-path="url(#cB24)"/>
<text transform="translate(361.80,133.40) rotate(-90)" text-anchor="middle" font-size="10.6" fill="#000">Ipsilateral Lung V<tspan font-size="7.2" dy="2.3">20Gy</tspan><tspan dy="-2.3"> (%)</tspan></text>
<text x="346.10" y="42.90" font-size="18.2" fill="#111">B</text>
<line x1="65.80" y1="317.21" x2="316.60" y2="317.21" stroke="#8a8a8a" stroke-width="1.0" stroke-dasharray="5 4.75" stroke-dashoffset="0.7" opacity="1"/>
<line x1="65.80" y1="374.84" x2="316.60" y2="374.84" stroke="#8a8a8a" stroke-width="1.0" stroke-dasharray="5 4.75" stroke-dashoffset="0.7" opacity="0.55"/>
<line x1="65.80" y1="432.47" x2="316.60" y2="432.47" stroke="#8a8a8a" stroke-width="1.0" stroke-dasharray="5 4.75" stroke-dashoffset="0.7" opacity="1"/>
<line x1="70.82" y1="289.00" x2="70.82" y2="490.10" stroke="#a8a8a8" stroke-width="1.1" stroke-dasharray="5 4.7" stroke-dashoffset="-6.00" opacity="0.8"/>
<line x1="90.88" y1="289.00" x2="90.88" y2="490.10" stroke="#a8a8a8" stroke-width="1.1" stroke-dasharray="5 4.7" stroke-dashoffset="-6.00" opacity="0.8"/>
<line x1="110.94" y1="289.00" x2="110.94" y2="490.10" stroke="#a8a8a8" stroke-width="1.1" stroke-dasharray="5 4.7" stroke-dashoffset="-6.00" opacity="0.25"/>
<line x1="120.98" y1="289.00" x2="120.98" y2="490.10" stroke="#a8a8a8" stroke-width="1.1" stroke-dasharray="5 4.7" stroke-dashoffset="-6.00" opacity="1"/>
<line x1="141.04" y1="289.00" x2="141.04" y2="490.10" stroke="#a8a8a8" stroke-width="1.1" stroke-dasharray="5 4.7" stroke-dashoffset="-6.00" opacity="1"/>
<line x1="161.10" y1="289.00" x2="161.10" y2="490.10" stroke="#a8a8a8" stroke-width="1.1" stroke-dasharray="5 4.7" stroke-dashoffset="-6.00" opacity="0.45"/>
<line x1="171.14" y1="289.00" x2="171.14" y2="490.10" stroke="#a8a8a8" stroke-width="1.1" stroke-dasharray="5 4.7" stroke-dashoffset="-6.00" opacity="0.3"/>
<line x1="191.20" y1="289.00" x2="191.20" y2="490.10" stroke="#a8a8a8" stroke-width="1.1" stroke-dasharray="5 4.7" stroke-dashoffset="-6.00" opacity="1"/>
<line x1="211.26" y1="289.00" x2="211.26" y2="490.10" stroke="#a8a8a8" stroke-width="1.1" stroke-dasharray="5 4.7" stroke-dashoffset="-6.00" opacity="1"/>
<line x1="221.30" y1="289.00" x2="221.30" y2="490.10" stroke="#a8a8a8" stroke-width="1.1" stroke-dasharray="5 4.7" stroke-dashoffset="-6.00" opacity="0.1"/>
<line x1="241.36" y1="289.00" x2="241.36" y2="490.10" stroke="#a8a8a8" stroke-width="1.1" stroke-dasharray="5 4.7" stroke-dashoffset="-6.00" opacity="1"/>
<line x1="261.42" y1="289.00" x2="261.42" y2="490.10" stroke="#a8a8a8" stroke-width="1.1" stroke-dasharray="5 4.7" stroke-dashoffset="-6.00" opacity="1"/>
<line x1="271.46" y1="289.00" x2="271.46" y2="490.10" stroke="#a8a8a8" stroke-width="1.1" stroke-dasharray="5 4.7" stroke-dashoffset="-6.00" opacity="0.1"/>
<line x1="291.52" y1="289.00" x2="291.52" y2="490.10" stroke="#a8a8a8" stroke-width="1.1" stroke-dasharray="5 4.7" stroke-dashoffset="-6.00" opacity="1"/>
<line x1="311.58" y1="289.00" x2="311.58" y2="490.10" stroke="#a8a8a8" stroke-width="1.1" stroke-dasharray="5 4.7" stroke-dashoffset="-6.00" opacity="1"/>
<rect x="280.40" y="288.90" width="36.20" height="17.40" fill="#fcfbfa"/>
<line x1="280.40" y1="288.40" x2="280.40" y2="306.30" stroke="#8c8c8c" stroke-width="1"/>
<line x1="316.60" y1="288.40" x2="316.60" y2="306.30" stroke="#9a9a9a" stroke-width="1"/>
<line x1="280.40" y1="306.30" x2="316.60" y2="306.30" stroke="#8c8c8c" stroke-width="1"/>
<polygon points="285.50,295.10 290.30,295.10 287.90,290.90" fill="#4f50a0"/>
<rect x="285.80" y="299.40" width="4.2" height="4.2" fill="#e8625d"/>
<text x="296.00" y="296.10" font-size="7.2" fill="#222" textLength="17.6" lengthAdjust="spacingAndGlyphs">DCAT</text>
<text x="296.00" y="304.50" font-size="7.2" fill="#222" textLength="19.2" lengthAdjust="spacingAndGlyphs">VMAT</text>
<line x1="62.00" y1="490.10" x2="65.80" y2="490.10" stroke="#222" stroke-width="1.1"/>
<text x="59.20" y="492.70" font-size="8.6" text-anchor="end" fill="#222">5</text>
<line x1="63.60" y1="475.69" x2="65.80" y2="475.69" stroke="#222" stroke-width="1.1"/>
<line x1="62.00" y1="461.29" x2="65.80" y2="461.29" stroke="#222" stroke-width="1.1"/>
<text x="59.20" y="463.89" font-size="8.6" text-anchor="end" fill="#222">10</text>
<line x1="63.60" y1="446.88" x2="65.80" y2="446.88" stroke="#222" stroke-width="1.1"/>
<line x1="62.00" y1="432.47" x2="65.80" y2="432.47" stroke="#222" stroke-width="1.1"/>
<text x="59.20" y="435.07" font-size="8.6" text-anchor="end" fill="#222">15</text>
<line x1="63.60" y1="418.06" x2="65.80" y2="418.06" stroke="#222" stroke-width="1.1"/>
<line x1="62.00" y1="403.66" x2="65.80" y2="403.66" stroke="#222" stroke-width="1.1"/>
<text x="59.20" y="406.26" font-size="8.6" text-anchor="end" fill="#222">20</text>
<line x1="63.60" y1="389.25" x2="65.80" y2="389.25" stroke="#222" stroke-width="1.1"/>
<line x1="62.00" y1="374.84" x2="65.80" y2="374.84" stroke="#222" stroke-width="1.1"/>
<text x="59.20" y="377.44" font-size="8.6" text-anchor="end" fill="#222">25</text>
<line x1="63.60" y1="360.44" x2="65.80" y2="360.44" stroke="#222" stroke-width="1.1"/>
<line x1="62.00" y1="346.03" x2="65.80" y2="346.03" stroke="#222" stroke-width="1.1"/>
<text x="59.20" y="348.63" font-size="8.6" text-anchor="end" fill="#222">30</text>
<line x1="63.60" y1="331.62" x2="65.80" y2="331.62" stroke="#222" stroke-width="1.1"/>
<line x1="62.00" y1="317.21" x2="65.80" y2="317.21" stroke="#222" stroke-width="1.1"/>
<text x="59.20" y="319.81" font-size="8.6" text-anchor="end" fill="#222">35</text>
<line x1="63.60" y1="302.81" x2="65.80" y2="302.81" stroke="#222" stroke-width="1.1"/>
<line x1="62.00" y1="288.40" x2="65.80" y2="288.40" stroke="#222" stroke-width="1.1"/>
<text x="59.20" y="291.00" font-size="8.6" text-anchor="end" fill="#222">40</text>
<line x1="65.80" y1="490.10" x2="65.80" y2="492.30" stroke="#222" stroke-width="1.1"/>
<line x1="70.82" y1="490.10" x2="70.82" y2="493.90" stroke="#222" stroke-width="1.1"/>
<text x="70.82" y="504.10" font-size="8.6" text-anchor="middle" fill="#222">1</text>
<line x1="75.83" y1="490.10" x2="75.83" y2="492.30" stroke="#222" stroke-width="1.1"/>
<line x1="80.85" y1="490.10" x2="80.85" y2="493.90" stroke="#222" stroke-width="1.1"/>
<text x="80.85" y="504.10" font-size="8.6" text-anchor="middle" fill="#222">2</text>
<line x1="85.86" y1="490.10" x2="85.86" y2="492.30" stroke="#222" stroke-width="1.1"/>
<line x1="90.88" y1="490.10" x2="90.88" y2="493.90" stroke="#222" stroke-width="1.1"/>
<text x="90.88" y="504.10" font-size="8.6" text-anchor="middle" fill="#222">3</text>
<line x1="95.90" y1="490.10" x2="95.90" y2="492.30" stroke="#222" stroke-width="1.1"/>
<line x1="100.91" y1="490.10" x2="100.91" y2="493.90" stroke="#222" stroke-width="1.1"/>
<text x="100.91" y="504.10" font-size="8.6" text-anchor="middle" fill="#222">4</text>
<line x1="105.93" y1="490.10" x2="105.93" y2="492.30" stroke="#222" stroke-width="1.1"/>
<line x1="110.94" y1="490.10" x2="110.94" y2="493.90" stroke="#222" stroke-width="1.1"/>
<text x="110.94" y="504.10" font-size="8.6" text-anchor="middle" fill="#222">5</text>
<line x1="115.96" y1="490.10" x2="115.96" y2="492.30" stroke="#222" stroke-width="1.1"/>
<line x1="120.98" y1="490.10" x2="120.98" y2="493.90" stroke="#222" stroke-width="1.1"/>
<text x="120.98" y="504.10" font-size="8.6" text-anchor="middle" fill="#222">6</text>
<line x1="125.99" y1="490.10" x2="125.99" y2="492.30" stroke="#222" stroke-width="1.1"/>
<line x1="131.01" y1="490.10" x2="131.01" y2="493.90" stroke="#222" stroke-width="1.1"/>
<text x="131.01" y="504.10" font-size="8.6" text-anchor="middle" fill="#222">7</text>
<line x1="136.02" y1="490.10" x2="136.02" y2="492.30" stroke="#222" stroke-width="1.1"/>
<line x1="141.04" y1="490.10" x2="141.04" y2="493.90" stroke="#222" stroke-width="1.1"/>
<text x="141.04" y="504.10" font-size="8.6" text-anchor="middle" fill="#222">8</text>
<line x1="146.06" y1="490.10" x2="146.06" y2="492.30" stroke="#222" stroke-width="1.1"/>
<line x1="151.07" y1="490.10" x2="151.07" y2="493.90" stroke="#222" stroke-width="1.1"/>
<text x="151.07" y="504.10" font-size="8.6" text-anchor="middle" fill="#222">9</text>
<line x1="156.09" y1="490.10" x2="156.09" y2="492.30" stroke="#222" stroke-width="1.1"/>
<line x1="161.10" y1="490.10" x2="161.10" y2="493.90" stroke="#222" stroke-width="1.1"/>
<text x="161.10" y="504.10" font-size="8.6" text-anchor="middle" fill="#222">10</text>
<line x1="166.12" y1="490.10" x2="166.12" y2="492.30" stroke="#222" stroke-width="1.1"/>
<line x1="171.14" y1="490.10" x2="171.14" y2="493.90" stroke="#222" stroke-width="1.1"/>
<text x="171.14" y="504.10" font-size="8.6" text-anchor="middle" fill="#222">11</text>
<line x1="176.15" y1="490.10" x2="176.15" y2="492.30" stroke="#222" stroke-width="1.1"/>
<line x1="181.17" y1="490.10" x2="181.17" y2="493.90" stroke="#222" stroke-width="1.1"/>
<text x="181.17" y="504.10" font-size="8.6" text-anchor="middle" fill="#222">12</text>
<line x1="186.18" y1="490.10" x2="186.18" y2="492.30" stroke="#222" stroke-width="1.1"/>
<line x1="191.20" y1="490.10" x2="191.20" y2="493.90" stroke="#222" stroke-width="1.1"/>
<text x="191.20" y="504.10" font-size="8.6" text-anchor="middle" fill="#222">13</text>
<line x1="196.22" y1="490.10" x2="196.22" y2="492.30" stroke="#222" stroke-width="1.1"/>
<line x1="201.23" y1="490.10" x2="201.23" y2="493.90" stroke="#222" stroke-width="1.1"/>
<text x="201.23" y="504.10" font-size="8.6" text-anchor="middle" fill="#222">14</text>
<line x1="206.25" y1="490.10" x2="206.25" y2="492.30" stroke="#222" stroke-width="1.1"/>
<line x1="211.26" y1="490.10" x2="211.26" y2="493.90" stroke="#222" stroke-width="1.1"/>
<text x="211.26" y="504.10" font-size="8.6" text-anchor="middle" fill="#222">15</text>
<line x1="216.28" y1="490.10" x2="216.28" y2="492.30" stroke="#222" stroke-width="1.1"/>
<line x1="221.30" y1="490.10" x2="221.30" y2="493.90" stroke="#222" stroke-width="1.1"/>
<text x="221.30" y="504.10" font-size="8.6" text-anchor="middle" fill="#222">16</text>
<line x1="226.31" y1="490.10" x2="226.31" y2="492.30" stroke="#222" stroke-width="1.1"/>
<line x1="231.33" y1="490.10" x2="231.33" y2="493.90" stroke="#222" stroke-width="1.1"/>
<text x="231.33" y="504.10" font-size="8.6" text-anchor="middle" fill="#222">17</text>
<line x1="236.34" y1="490.10" x2="236.34" y2="492.30" stroke="#222" stroke-width="1.1"/>
<line x1="241.36" y1="490.10" x2="241.36" y2="493.90" stroke="#222" stroke-width="1.1"/>
<text x="241.36" y="504.10" font-size="8.6" text-anchor="middle" fill="#222">18</text>
<line x1="246.38" y1="490.10" x2="246.38" y2="492.30" stroke="#222" stroke-width="1.1"/>
<line x1="251.39" y1="490.10" x2="251.39" y2="493.90" stroke="#222" stroke-width="1.1"/>
<text x="251.39" y="504.10" font-size="8.6" text-anchor="middle" fill="#222">19</text>
<line x1="256.41" y1="490.10" x2="256.41" y2="492.30" stroke="#222" stroke-width="1.1"/>
<line x1="261.42" y1="490.10" x2="261.42" y2="493.90" stroke="#222" stroke-width="1.1"/>
<text x="261.42" y="504.10" font-size="8.6" text-anchor="middle" fill="#222">20</text>
<line x1="266.44" y1="490.10" x2="266.44" y2="492.30" stroke="#222" stroke-width="1.1"/>
<line x1="271.46" y1="490.10" x2="271.46" y2="493.90" stroke="#222" stroke-width="1.1"/>
<text x="271.46" y="504.10" font-size="8.6" text-anchor="middle" fill="#222">21</text>
<line x1="276.47" y1="490.10" x2="276.47" y2="492.30" stroke="#222" stroke-width="1.1"/>
<line x1="281.49" y1="490.10" x2="281.49" y2="493.90" stroke="#222" stroke-width="1.1"/>
<text x="281.49" y="504.10" font-size="8.6" text-anchor="middle" fill="#222">22</text>
<line x1="286.50" y1="490.10" x2="286.50" y2="492.30" stroke="#222" stroke-width="1.1"/>
<line x1="291.52" y1="490.10" x2="291.52" y2="493.90" stroke="#222" stroke-width="1.1"/>
<text x="291.52" y="504.10" font-size="8.6" text-anchor="middle" fill="#222">23</text>
<line x1="296.54" y1="490.10" x2="296.54" y2="492.30" stroke="#222" stroke-width="1.1"/>
<line x1="301.55" y1="490.10" x2="301.55" y2="493.90" stroke="#222" stroke-width="1.1"/>
<text x="301.55" y="504.10" font-size="8.6" text-anchor="middle" fill="#222">24</text>
<line x1="306.57" y1="490.10" x2="306.57" y2="492.30" stroke="#222" stroke-width="1.1"/>
<line x1="311.58" y1="490.10" x2="311.58" y2="493.90" stroke="#222" stroke-width="1.1"/>
<text x="311.58" y="504.10" font-size="8.6" text-anchor="middle" fill="#222">25</text>
<line x1="316.60" y1="490.10" x2="316.60" y2="492.30" stroke="#222" stroke-width="1.1"/>
<line x1="65.80" y1="287.90" x2="65.80" y2="490.70" stroke="#3a3a3a" stroke-width="1.5"/>
<line x1="65.00" y1="490.10" x2="317.40" y2="490.10" stroke="#4a4a4a" stroke-width="1.3"/>
<polygon points="68.32,451.10 73.32,451.10 70.82,446.70" fill="#4f50a0"/>
<polygon points="78.35,411.10 83.35,411.10 80.85,406.70" fill="#4f50a0"/>
<polygon points="88.38,422.90 93.38,422.90 90.88,418.50" fill="#4f50a0"/>
<polygon points="98.41,329.60 103.41,329.60 100.91,325.20" fill="#4f50a0"/>
<polygon points="108.44,398.70 113.44,398.70 110.94,394.30" fill="#4f50a0"/>
<polygon points="118.48,412.40 123.48,412.40 120.98,408.00" fill="#4f50a0"/>
<polygon points="128.51,303.00 133.51,303.00 131.01,298.60" fill="#4f50a0"/>
<polygon points="138.54,394.90 143.54,394.90 141.04,390.50" fill="#4f50a0"/>
<polygon points="148.57,371.00 153.57,371.00 151.07,366.60" fill="#4f50a0"/>
<polygon points="158.60,397.90 163.60,397.90 161.10,393.50" fill="#4f50a0"/>
<polygon points="168.64,351.10 173.64,351.10 171.14,346.70" fill="#4f50a0"/>
<polygon points="178.67,350.80 183.67,350.80 181.17,346.40" fill="#4f50a0"/>
<polygon points="188.70,399.80 193.70,399.80 191.20,395.40" fill="#4f50a0"/>
<polygon points="198.73,372.60 203.73,372.60 201.23,368.20" fill="#4f50a0"/>
<polygon points="208.76,399.50 213.76,399.50 211.26,395.10" fill="#4f50a0"/>
<polygon points="218.80,452.50 223.80,452.50 221.30,448.10" fill="#4f50a0"/>
<polygon points="228.83,401.10 233.83,401.10 231.33,396.70" fill="#4f50a0"/>
<polygon points="238.86,373.70 243.86,373.70 241.36,369.30" fill="#4f50a0"/>
<polygon points="248.89,432.60 253.89,432.60 251.39,428.20" fill="#4f50a0"/>
<polygon points="258.92,417.80 263.92,417.80 261.42,413.40" fill="#4f50a0"/>
<polygon points="268.96,414.00 273.96,414.00 271.46,409.60" fill="#4f50a0"/>
<polygon points="278.99,419.90 283.99,419.90 281.49,415.50" fill="#4f50a0"/>
<polygon points="289.02,414.80 294.02,414.80 291.52,410.40" fill="#4f50a0"/>
<polygon points="299.05,456.00 304.05,456.00 301.55,451.60" fill="#4f50a0"/>
<polygon points="309.08,342.00 314.08,342.00 311.58,337.60" fill="#4f50a0"/>
<rect x="68.72" y="459.30" width="4.2" height="4.2" fill="#e8625d"/>
<rect x="78.75" y="419.20" width="4.2" height="4.2" fill="#e8625d"/>
<rect x="88.78" y="437.80" width="4.2" height="4.2" fill="#e8625d"/>
<rect x="98.81" y="334.50" width="4.2" height="4.2" fill="#e8625d"/>
<rect x="108.84" y="403.10" width="4.2" height="4.2" fill="#e8625d"/>
<rect x="118.88" y="409.30" width="4.2" height="4.2" fill="#e8625d"/>
<polygon points="118.48,412.40 123.48,412.40 120.98,408.00" fill="#be2d5c" clip-path="url(#cC5)"/>
<rect x="128.91" y="355.50" width="4.2" height="4.2" fill="#e8625d"/>
<rect x="138.94" y="400.10" width="4.2" height="4.2" fill="#e8625d"/>
<rect x="148.97" y="384.50" width="4.2" height="4.2" fill="#e8625d"/>
<rect x="159.00" y="401.70" width="4.2" height="4.2" fill="#e8625d"/>
<rect x="169.04" y="374.60" width="4.2" height="4.2" fill="#e8625d"/>
<rect x="179.07" y="376.50" width="4.2" height="4.2" fill="#e8625d"/>
<rect x="189.10" y="398.80" width="4.2" height="4.2" fill="#e8625d"/>
<polygon points="188.70,399.80 193.70,399.80 191.20,395.40" fill="#be2d5c" clip-path="url(#cC12)"/>
<rect x="199.13" y="384.50" width="4.2" height="4.2" fill="#e8625d"/>
<rect x="209.16" y="404.70" width="4.2" height="4.2" fill="#e8625d"/>
<rect x="219.20" y="452.60" width="4.2" height="4.2" fill="#e8625d"/>
<polygon points="218.80,452.50 223.80,452.50 221.30,448.10" fill="#be2d5c" clip-path="url(#cC15)"/>
<rect x="229.23" y="402.80" width="4.2" height="4.2" fill="#e8625d"/>
<rect x="239.26" y="381.60" width="4.2" height="4.2" fill="#e8625d"/>
<rect x="249.29" y="422.70" width="4.2" height="4.2" fill="#e8625d"/>
<rect x="259.32" y="421.40" width="4.2" height="4.2" fill="#e8625d"/>
<rect x="269.36" y="407.40" width="4.2" height="4.2" fill="#e8625d"/>
<polygon points="268.96,414.00 273.96,414.00 271.46,409.60" fill="#be2d5c" clip-path="url(#cC20)"/>
<rect x="279.39" y="421.40" width="4.2" height="4.2" fill="#e8625d"/>
<rect x="289.42" y="422.50" width="4.2" height="4.2" fill="#e8625d"/>
<rect x="299.45" y="462.50" width="4.2" height="4.2" fill="#e8625d"/>
<rect x="309.48" y="332.90" width="4.2" height="4.2" fill="#e8625d"/>
<text transform="translate(42.30,389.25) rotate(-90)" text-anchor="middle" font-size="10.6" fill="#000">Lung All V<tspan font-size="7.2" dy="2.3">5Gy</tspan><tspan dy="-2.3"> (%)</tspan></text>
<text x="29.70" y="299.60" font-size="18.2" fill="#111">C</text>
<line x1="391.40" y1="333.22" x2="642.30" y2="333.22" stroke="#8a8a8a" stroke-width="1.0" stroke-dasharray="5 4.75" stroke-dashoffset="-0.5" opacity="1"/>
<line x1="391.40" y1="378.04" x2="642.30" y2="378.04" stroke="#8a8a8a" stroke-width="1.0" stroke-dasharray="5 4.75" stroke-dashoffset="-0.5" opacity="1"/>
<line x1="391.40" y1="445.28" x2="642.30" y2="445.28" stroke="#8a8a8a" stroke-width="1.0" stroke-dasharray="5 4.75" stroke-dashoffset="-0.5" opacity="1"/>
<line x1="396.42" y1="289.00" x2="396.42" y2="490.10" stroke="#a8a8a8" stroke-width="1.1" stroke-dasharray="5 4.7" stroke-dashoffset="-6.00" opacity="0.25"/>
<line x1="416.49" y1="289.00" x2="416.49" y2="490.10" stroke="#a8a8a8" stroke-width="1.1" stroke-dasharray="5 4.7" stroke-dashoffset="-6.00" opacity="1"/>
<line x1="436.56" y1="289.00" x2="436.56" y2="490.10" stroke="#a8a8a8" stroke-width="1.1" stroke-dasharray="5 4.7" stroke-dashoffset="-6.00" opacity="1"/>
<line x1="456.63" y1="289.00" x2="456.63" y2="490.10" stroke="#a8a8a8" stroke-width="1.1" stroke-dasharray="5 4.7" stroke-dashoffset="-6.00" opacity="0.25"/>
<line x1="466.67" y1="289.00" x2="466.67" y2="490.10" stroke="#a8a8a8" stroke-width="1.1" stroke-dasharray="5 4.7" stroke-dashoffset="-6.00" opacity="1"/>
<line x1="486.74" y1="289.00" x2="486.74" y2="490.10" stroke="#a8a8a8" stroke-width="1.1" stroke-dasharray="5 4.7" stroke-dashoffset="-6.00" opacity="1"/>
<line x1="506.81" y1="289.00" x2="506.81" y2="490.10" stroke="#a8a8a8" stroke-width="1.1" stroke-dasharray="5 4.7" stroke-dashoffset="-6.00" opacity="0.45"/>
<line x1="516.85" y1="289.00" x2="516.85" y2="490.10" stroke="#a8a8a8" stroke-width="1.1" stroke-dasharray="5 4.7" stroke-dashoffset="-6.00" opacity="1"/>
<line x1="536.92" y1="289.00" x2="536.92" y2="490.10" stroke="#a8a8a8" stroke-width="1.1" stroke-dasharray="5 4.7" stroke-dashoffset="-6.00" opacity="1"/>
<line x1="556.99" y1="289.00" x2="556.99" y2="490.10" stroke="#a8a8a8" stroke-width="1.1" stroke-dasharray="5 4.7" stroke-dashoffset="-6.00" opacity="0.6"/>
<line x1="587.10" y1="289.00" x2="587.10" y2="490.10" stroke="#a8a8a8" stroke-width="1.1" stroke-dasharray="5 4.7" stroke-dashoffset="-6.00" opacity="1"/>
<line x1="607.17" y1="289.00" x2="607.17" y2="490.10" stroke="#a8a8a8" stroke-width="1.1" stroke-dasharray="5 4.7" stroke-dashoffset="-6.00" opacity="0.6"/>
<line x1="637.28" y1="289.00" x2="637.28" y2="490.10" stroke="#a8a8a8" stroke-width="1.1" stroke-dasharray="5 4.7" stroke-dashoffset="-6.00" opacity="1"/>
<line x1="642.30" y1="288.40" x2="642.30" y2="490.10" stroke="#cfcfcf" stroke-width="1"/>
<rect x="606.00" y="289.30" width="36.30" height="16.80" fill="#fcfbfa"/>
<line x1="642.30" y1="288.80" x2="642.30" y2="306.10" stroke="#9a9a9a" stroke-width="1"/>
<line x1="606.00" y1="306.10" x2="642.30" y2="306.10" stroke="#8c8c8c" stroke-width="1"/>
<polygon points="611.10,295.50 615.90,295.50 613.50,291.30" fill="#4f50a0"/>
<rect x="611.40" y="299.80" width="4.2" height="4.2" fill="#e8625d"/>
<text x="621.60" y="296.50" font-size="7.2" fill="#222" textLength="17.6" lengthAdjust="spacingAndGlyphs">DCAT</text>
<text x="621.60" y="304.90" font-size="7.2" fill="#222" textLength="19.2" lengthAdjust="spacingAndGlyphs">VMAT</text>
<line x1="387.60" y1="490.10" x2="391.40" y2="490.10" stroke="#222" stroke-width="1.1"/>
<text x="384.80" y="492.70" font-size="8.6" text-anchor="end" fill="#222">1</text>
<line x1="389.20" y1="478.89" x2="391.40" y2="478.89" stroke="#222" stroke-width="1.1"/>
<line x1="387.60" y1="467.69" x2="391.40" y2="467.69" stroke="#222" stroke-width="1.1"/>
<text x="384.80" y="470.29" font-size="8.6" text-anchor="end" fill="#222">2</text>
<line x1="389.20" y1="456.48" x2="391.40" y2="456.48" stroke="#222" stroke-width="1.1"/>
<line x1="387.60" y1="445.28" x2="391.40" y2="445.28" stroke="#222" stroke-width="1.1"/>
<text x="384.80" y="447.88" font-size="8.6" text-anchor="end" fill="#222">3</text>
<line x1="389.20" y1="434.07" x2="391.40" y2="434.07" stroke="#222" stroke-width="1.1"/>
<line x1="387.60" y1="422.87" x2="391.40" y2="422.87" stroke="#222" stroke-width="1.1"/>
<text x="384.80" y="425.47" font-size="8.6" text-anchor="end" fill="#222">4</text>
<line x1="389.20" y1="411.66" x2="391.40" y2="411.66" stroke="#222" stroke-width="1.1"/>
<line x1="387.60" y1="400.46" x2="391.40" y2="400.46" stroke="#222" stroke-width="1.1"/>
<text x="384.80" y="403.06" font-size="8.6" text-anchor="end" fill="#222">5</text>
<line x1="389.20" y1="389.25" x2="391.40" y2="389.25" stroke="#222" stroke-width="1.1"/>
<line x1="387.60" y1="378.04" x2="391.40" y2="378.04" stroke="#222" stroke-width="1.1"/>
<text x="384.80" y="380.64" font-size="8.6" text-anchor="end" fill="#222">6</text>
<line x1="389.20" y1="366.84" x2="391.40" y2="366.84" stroke="#222" stroke-width="1.1"/>
<line x1="387.60" y1="355.63" x2="391.40" y2="355.63" stroke="#222" stroke-width="1.1"/>
<text x="384.80" y="358.23" font-size="8.6" text-anchor="end" fill="#222">7</text>
<line x1="389.20" y1="344.43" x2="391.40" y2="344.43" stroke="#222" stroke-width="1.1"/>
<line x1="387.60" y1="333.22" x2="391.40" y2="333.22" stroke="#222" stroke-width="1.1"/>
<text x="384.80" y="335.82" font-size="8.6" text-anchor="end" fill="#222">8</text>
<line x1="389.20" y1="322.02" x2="391.40" y2="322.02" stroke="#222" stroke-width="1.1"/>
<line x1="387.60" y1="310.81" x2="391.40" y2="310.81" stroke="#222" stroke-width="1.1"/>
<text x="384.80" y="313.41" font-size="8.6" text-anchor="end" fill="#222">9</text>
<line x1="389.20" y1="299.61" x2="391.40" y2="299.61" stroke="#222" stroke-width="1.1"/>
<line x1="387.60" y1="288.40" x2="391.40" y2="288.40" stroke="#222" stroke-width="1.1"/>
<text x="384.80" y="291.00" font-size="8.6" text-anchor="end" fill="#222">10</text>
<line x1="391.40" y1="490.10" x2="391.40" y2="492.30" stroke="#222" stroke-width="1.1"/>
<line x1="396.42" y1="490.10" x2="396.42" y2="493.90" stroke="#222" stroke-width="1.1"/>
<text x="396.42" y="504.10" font-size="8.6" text-anchor="middle" fill="#222">1</text>
<line x1="401.44" y1="490.10" x2="401.44" y2="492.30" stroke="#222" stroke-width="1.1"/>
<line x1="406.45" y1="490.10" x2="406.45" y2="493.90" stroke="#222" stroke-width="1.1"/>
<text x="406.45" y="504.10" font-size="8.6" text-anchor="middle" fill="#222">2</text>
<line x1="411.47" y1="490.10" x2="411.47" y2="492.30" stroke="#222" stroke-width="1.1"/>
<line x1="416.49" y1="490.10" x2="416.49" y2="493.90" stroke="#222" stroke-width="1.1"/>
<text x="416.49" y="504.10" font-size="8.6" text-anchor="middle" fill="#222">3</text>
<line x1="421.51" y1="490.10" x2="421.51" y2="492.30" stroke="#222" stroke-width="1.1"/>
<line x1="426.53" y1="490.10" x2="426.53" y2="493.90" stroke="#222" stroke-width="1.1"/>
<text x="426.53" y="504.10" font-size="8.6" text-anchor="middle" fill="#222">4</text>
<line x1="431.54" y1="490.10" x2="431.54" y2="492.30" stroke="#222" stroke-width="1.1"/>
<line x1="436.56" y1="490.10" x2="436.56" y2="493.90" stroke="#222" stroke-width="1.1"/>
<text x="436.56" y="504.10" font-size="8.6" text-anchor="middle" fill="#222">5</text>
<line x1="441.58" y1="490.10" x2="441.58" y2="492.30" stroke="#222" stroke-width="1.1"/>
<line x1="446.60" y1="490.10" x2="446.60" y2="493.90" stroke="#222" stroke-width="1.1"/>
<text x="446.60" y="504.10" font-size="8.6" text-anchor="middle" fill="#222">6</text>
<line x1="451.62" y1="490.10" x2="451.62" y2="492.30" stroke="#222" stroke-width="1.1"/>
<line x1="456.63" y1="490.10" x2="456.63" y2="493.90" stroke="#222" stroke-width="1.1"/>
<text x="456.63" y="504.10" font-size="8.6" text-anchor="middle" fill="#222">7</text>
<line x1="461.65" y1="490.10" x2="461.65" y2="492.30" stroke="#222" stroke-width="1.1"/>
<line x1="466.67" y1="490.10" x2="466.67" y2="493.90" stroke="#222" stroke-width="1.1"/>
<text x="466.67" y="504.10" font-size="8.6" text-anchor="middle" fill="#222">8</text>
<line x1="471.69" y1="490.10" x2="471.69" y2="492.30" stroke="#222" stroke-width="1.1"/>
<line x1="476.71" y1="490.10" x2="476.71" y2="493.90" stroke="#222" stroke-width="1.1"/>
<text x="476.71" y="504.10" font-size="8.6" text-anchor="middle" fill="#222">9</text>
<line x1="481.72" y1="490.10" x2="481.72" y2="492.30" stroke="#222" stroke-width="1.1"/>
<line x1="486.74" y1="490.10" x2="486.74" y2="493.90" stroke="#222" stroke-width="1.1"/>
<text x="486.74" y="504.10" font-size="8.6" text-anchor="middle" fill="#222">10</text>
<line x1="491.76" y1="490.10" x2="491.76" y2="492.30" stroke="#222" stroke-width="1.1"/>
<line x1="496.78" y1="490.10" x2="496.78" y2="493.90" stroke="#222" stroke-width="1.1"/>
<text x="496.78" y="504.10" font-size="8.6" text-anchor="middle" fill="#222">11</text>
<line x1="501.80" y1="490.10" x2="501.80" y2="492.30" stroke="#222" stroke-width="1.1"/>
<line x1="506.81" y1="490.10" x2="506.81" y2="493.90" stroke="#222" stroke-width="1.1"/>
<text x="506.81" y="504.10" font-size="8.6" text-anchor="middle" fill="#222">12</text>
<line x1="511.83" y1="490.10" x2="511.83" y2="492.30" stroke="#222" stroke-width="1.1"/>
<line x1="516.85" y1="490.10" x2="516.85" y2="493.90" stroke="#222" stroke-width="1.1"/>
<text x="516.85" y="504.10" font-size="8.6" text-anchor="middle" fill="#222">13</text>
<line x1="521.87" y1="490.10" x2="521.87" y2="492.30" stroke="#222" stroke-width="1.1"/>
<line x1="526.89" y1="490.10" x2="526.89" y2="493.90" stroke="#222" stroke-width="1.1"/>
<text x="526.89" y="504.10" font-size="8.6" text-anchor="middle" fill="#222">14</text>
<line x1="531.90" y1="490.10" x2="531.90" y2="492.30" stroke="#222" stroke-width="1.1"/>
<line x1="536.92" y1="490.10" x2="536.92" y2="493.90" stroke="#222" stroke-width="1.1"/>
<text x="536.92" y="504.10" font-size="8.6" text-anchor="middle" fill="#222">15</text>
<line x1="541.94" y1="490.10" x2="541.94" y2="492.30" stroke="#222" stroke-width="1.1"/>
<line x1="546.96" y1="490.10" x2="546.96" y2="493.90" stroke="#222" stroke-width="1.1"/>
<text x="546.96" y="504.10" font-size="8.6" text-anchor="middle" fill="#222">16</text>
<line x1="551.98" y1="490.10" x2="551.98" y2="492.30" stroke="#222" stroke-width="1.1"/>
<line x1="556.99" y1="490.10" x2="556.99" y2="493.90" stroke="#222" stroke-width="1.1"/>
<text x="556.99" y="504.10" font-size="8.6" text-anchor="middle" fill="#222">17</text>
<line x1="562.01" y1="490.10" x2="562.01" y2="492.30" stroke="#222" stroke-width="1.1"/>
<line x1="567.03" y1="490.10" x2="567.03" y2="493.90" stroke="#222" stroke-width="1.1"/>
<text x="567.03" y="504.10" font-size="8.6" text-anchor="middle" fill="#222">18</text>
<line x1="572.05" y1="490.10" x2="572.05" y2="492.30" stroke="#222" stroke-width="1.1"/>
<line x1="577.07" y1="490.10" x2="577.07" y2="493.90" stroke="#222" stroke-width="1.1"/>
<text x="577.07" y="504.10" font-size="8.6" text-anchor="middle" fill="#222">19</text>
<line x1="582.08" y1="490.10" x2="582.08" y2="492.30" stroke="#222" stroke-width="1.1"/>
<line x1="587.10" y1="490.10" x2="587.10" y2="493.90" stroke="#222" stroke-width="1.1"/>
<text x="587.10" y="504.10" font-size="8.6" text-anchor="middle" fill="#222">20</text>
<line x1="592.12" y1="490.10" x2="592.12" y2="492.30" stroke="#222" stroke-width="1.1"/>
<line x1="597.14" y1="490.10" x2="597.14" y2="493.90" stroke="#222" stroke-width="1.1"/>
<text x="597.14" y="504.10" font-size="8.6" text-anchor="middle" fill="#222">21</text>
<line x1="602.16" y1="490.10" x2="602.16" y2="492.30" stroke="#222" stroke-width="1.1"/>
<line x1="607.17" y1="490.10" x2="607.17" y2="493.90" stroke="#222" stroke-width="1.1"/>
<text x="607.17" y="504.10" font-size="8.6" text-anchor="middle" fill="#222">22</text>
<line x1="612.19" y1="490.10" x2="612.19" y2="492.30" stroke="#222" stroke-width="1.1"/>
<line x1="617.21" y1="490.10" x2="617.21" y2="493.90" stroke="#222" stroke-width="1.1"/>
<text x="617.21" y="504.10" font-size="8.6" text-anchor="middle" fill="#222">23</text>
<line x1="622.23" y1="490.10" x2="622.23" y2="492.30" stroke="#222" stroke-width="1.1"/>
<line x1="627.25" y1="490.10" x2="627.25" y2="493.90" stroke="#222" stroke-width="1.1"/>
<text x="627.25" y="504.10" font-size="8.6" text-anchor="middle" fill="#222">24</text>
<line x1="632.26" y1="490.10" x2="632.26" y2="492.30" stroke="#222" stroke-width="1.1"/>
<line x1="637.28" y1="490.10" x2="637.28" y2="493.90" stroke="#222" stroke-width="1.1"/>
<text x="637.28" y="504.10" font-size="8.6" text-anchor="middle" fill="#222">25</text>
<line x1="642.30" y1="490.10" x2="642.30" y2="492.30" stroke="#222" stroke-width="1.1"/>
<line x1="391.40" y1="287.90" x2="391.40" y2="490.70" stroke="#3a3a3a" stroke-width="1.5"/>
<line x1="390.60" y1="490.10" x2="643.10" y2="490.10" stroke="#4a4a4a" stroke-width="1.3"/>
<polygon points="393.92,442.80 398.92,442.80 396.42,438.40" fill="#4f50a0"/>
<polygon points="403.95,411.60 408.95,411.60 406.45,407.20" fill="#4f50a0"/>
<polygon points="413.99,418.10 418.99,418.10 416.49,413.70" fill="#4f50a0"/>
<polygon points="424.03,337.10 429.03,337.10 426.53,332.70" fill="#4f50a0"/>
<polygon points="434.06,409.20 439.06,409.20 436.56,404.80" fill="#4f50a0"/>
<polygon points="444.10,433.60 449.10,433.60 446.60,429.20" fill="#4f50a0"/>
<polygon points="454.13,294.60 459.13,294.60 456.63,290.20" fill="#4f50a0"/>
<polygon points="464.17,386.90 469.17,386.90 466.67,382.50" fill="#4f50a0"/>
<polygon points="474.21,418.10 479.21,418.10 476.71,413.70" fill="#4f50a0"/>
<polygon points="484.24,402.50 489.24,402.50 486.74,398.10" fill="#4f50a0"/>
<polygon points="494.28,365.10 499.28,365.10 496.78,360.70" fill="#4f50a0"/>
<polygon points="504.31,406.80 509.31,406.80 506.81,402.40" fill="#4f50a0"/>
<polygon points="514.35,395.50 519.35,395.50 516.85,391.10" fill="#4f50a0"/>
<polygon points="524.39,372.90 529.39,372.90 526.89,368.50" fill="#4f50a0"/>
<polygon points="534.42,411.60 539.42,411.60 536.92,407.20" fill="#4f50a0"/>
<polygon points="544.46,478.30 549.46,478.30 546.96,473.90" fill="#4f50a0"/>
<polygon points="554.49,405.70 559.49,405.70 556.99,401.30" fill="#4f50a0"/>
<polygon points="564.53,424.80 569.53,424.80 567.03,420.40" fill="#4f50a0"/>
<polygon points="574.57,433.60 579.57,433.60 577.07,429.20" fill="#4f50a0"/>
<polygon points="584.60,447.10 589.60,447.10 587.10,442.70" fill="#4f50a0"/>
<polygon points="594.64,438.20 599.64,438.20 597.14,433.80" fill="#4f50a0"/>
<polygon points="604.67,424.80 609.67,424.80 607.17,420.40" fill="#4f50a0"/>
<polygon points="614.71,469.70 619.71,469.70 617.21,465.30" fill="#4f50a0"/>
<polygon points="624.75,485.30 629.75,485.30 627.25,480.90" fill="#4f50a0"/>
<polygon points="634.78,375.60 639.78,375.60 637.28,371.20" fill="#4f50a0"/>
<rect x="394.32" y="447.70" width="4.2" height="4.2" fill="#e8625d"/>
<rect x="404.35" y="423.30" width="4.2" height="4.2" fill="#e8625d"/>
<rect x="414.39" y="430.00" width="4.2" height="4.2" fill="#e8625d"/>
<rect x="424.43" y="350.10" width="4.2" height="4.2" fill="#e8625d"/>
<rect x="434.46" y="414.40" width="4.2" height="4.2" fill="#e8625d"/>
<rect x="444.50" y="434.30" width="4.2" height="4.2" fill="#e8625d"/>
<rect x="454.53" y="331.30" width="4.2" height="4.2" fill="#e8625d"/>
<rect x="464.57" y="396.40" width="4.2" height="4.2" fill="#e8625d"/>
<rect x="474.61" y="427.80" width="4.2" height="4.2" fill="#e8625d"/>
<rect x="484.64" y="407.40" width="4.2" height="4.2" fill="#e8625d"/>
<rect x="494.68" y="373.80" width="4.2" height="4.2" fill="#e8625d"/>
<rect x="504.71" y="418.70" width="4.2" height="4.2" fill="#e8625d"/>
<rect x="514.75" y="402.80" width="4.2" height="4.2" fill="#e8625d"/>
<rect x="524.79" y="378.10" width="4.2" height="4.2" fill="#e8625d"/>
<rect x="534.82" y="420.80" width="4.2" height="4.2" fill="#e8625d"/>
<rect x="544.86" y="479.50" width="4.2" height="4.2" fill="#e8625d"/>
<rect x="554.89" y="413.60" width="4.2" height="4.2" fill="#e8625d"/>
<rect x="564.93" y="425.70" width="4.2" height="4.2" fill="#e8625d"/>
<rect x="574.97" y="441.30" width="4.2" height="4.2" fill="#e8625d"/>
<rect x="585.00" y="450.20" width="4.2" height="4.2" fill="#e8625d"/>
<rect x="595.04" y="434.30" width="4.2" height="4.2" fill="#e8625d"/>
<polygon points="594.64,438.20 599.64,438.20 597.14,433.80" fill="#be2d5c" clip-path="url(#cD20)"/>
<rect x="605.07" y="431.90" width="4.2" height="4.2" fill="#e8625d"/>
<rect x="615.11" y="465.70" width="4.2" height="4.2" fill="#e8625d"/>
<polygon points="614.71,469.70 619.71,469.70 617.21,465.30" fill="#be2d5c" clip-path="url(#cD22)"/>
<rect x="625.15" y="486.40" width="4.2" height="4.2" fill="#e8625d"/>
<rect x="635.18" y="374.10" width="4.2" height="4.2" fill="#e8625d"/>
<polygon points="634.78,375.60 639.78,375.60 637.28,371.20" fill="#be2d5c" clip-path="url(#cD24)"/>
<text transform="translate(368.00,389.25) rotate(-90)" text-anchor="middle" font-size="10.6" fill="#000">Lung All V<tspan font-size="7.2" dy="2.3">20Gy</tspan><tspan dy="-2.3"> (%)</tspan></text>
<text x="352.80" y="301.50" font-size="18.2" fill="#111">D</text>
<line x1="65.80" y1="670.20" x2="316.60" y2="670.20" stroke="#8a8a8a" stroke-width="1.0" stroke-dasharray="5 4.75" stroke-dashoffset="0.7" opacity="1"/>
<line x1="65.80" y1="707.00" x2="316.60" y2="707.00" stroke="#8a8a8a" stroke-width="1.0" stroke-dasharray="5 4.75" stroke-dashoffset="0.7" opacity="1"/>
<line x1="70.82" y1="542.00" x2="70.82" y2="743.80" stroke="#a8a8a8" stroke-width="1.1" stroke-dasharray="5 4.7" stroke-dashoffset="-8.00" opacity="0.8"/>
<line x1="90.88" y1="542.00" x2="90.88" y2="743.80" stroke="#a8a8a8" stroke-width="1.1" stroke-dasharray="5 4.7" stroke-dashoffset="-8.00" opacity="0.8"/>
<line x1="110.94" y1="542.00" x2="110.94" y2="743.80" stroke="#a8a8a8" stroke-width="1.1" stroke-dasharray="5 4.7" stroke-dashoffset="-8.00" opacity="0.25"/>
<line x1="120.98" y1="542.00" x2="120.98" y2="743.80" stroke="#a8a8a8" stroke-width="1.1" stroke-dasharray="5 4.7" stroke-dashoffset="-8.00" opacity="1"/>
<line x1="141.04" y1="542.00" x2="141.04" y2="743.80" stroke="#a8a8a8" stroke-width="1.1" stroke-dasharray="5 4.7" stroke-dashoffset="-8.00" opacity="1"/>
<line x1="161.10" y1="542.00" x2="161.10" y2="743.80" stroke="#a8a8a8" stroke-width="1.1" stroke-dasharray="5 4.7" stroke-dashoffset="-8.00" opacity="0.45"/>
<line x1="171.14" y1="542.00" x2="171.14" y2="743.80" stroke="#a8a8a8" stroke-width="1.1" stroke-dasharray="5 4.7" stroke-dashoffset="-8.00" opacity="0.3"/>
<line x1="191.20" y1="542.00" x2="191.20" y2="743.80" stroke="#a8a8a8" stroke-width="1.1" stroke-dasharray="5 4.7" stroke-dashoffset="-8.00" opacity="1"/>
<line x1="211.26" y1="542.00" x2="211.26" y2="743.80" stroke="#a8a8a8" stroke-width="1.1" stroke-dasharray="5 4.7" stroke-dashoffset="-8.00" opacity="1"/>
<line x1="221.30" y1="542.00" x2="221.30" y2="743.80" stroke="#a8a8a8" stroke-width="1.1" stroke-dasharray="5 4.7" stroke-dashoffset="-8.00" opacity="0.1"/>
<line x1="241.36" y1="542.00" x2="241.36" y2="743.80" stroke="#a8a8a8" stroke-width="1.1" stroke-dasharray="5 4.7" stroke-dashoffset="-8.00" opacity="1"/>
<line x1="261.42" y1="542.00" x2="261.42" y2="743.80" stroke="#a8a8a8" stroke-width="1.1" stroke-dasharray="5 4.7" stroke-dashoffset="-8.00" opacity="1"/>
<line x1="271.46" y1="542.00" x2="271.46" y2="743.80" stroke="#a8a8a8" stroke-width="1.1" stroke-dasharray="5 4.7" stroke-dashoffset="-8.00" opacity="0.1"/>
<line x1="291.52" y1="542.00" x2="291.52" y2="743.80" stroke="#a8a8a8" stroke-width="1.1" stroke-dasharray="5 4.7" stroke-dashoffset="-8.00" opacity="1"/>
<line x1="311.58" y1="542.00" x2="311.58" y2="743.80" stroke="#a8a8a8" stroke-width="1.1" stroke-dasharray="5 4.7" stroke-dashoffset="-8.00" opacity="1"/>
<rect x="280.30" y="542.80" width="36.30" height="17.40" fill="#fcfbfa"/>
<line x1="280.30" y1="542.30" x2="280.30" y2="560.20" stroke="#8c8c8c" stroke-width="1"/>
<line x1="316.60" y1="542.30" x2="316.60" y2="560.20" stroke="#9a9a9a" stroke-width="1"/>
<line x1="280.30" y1="542.30" x2="316.60" y2="542.30" stroke="#8c8c8c" stroke-width="1"/>
<line x1="280.30" y1="560.20" x2="316.60" y2="560.20" stroke="#8c8c8c" stroke-width="1"/>
<polygon points="285.40,549.00 290.20,549.00 287.80,544.80" fill="#4f50a0"/>
<rect x="285.70" y="553.30" width="4.2" height="4.2" fill="#e8625d"/>
<text x="295.90" y="550.00" font-size="7.2" fill="#222" textLength="17.6" lengthAdjust="spacingAndGlyphs">DCAT</text>
<text x="295.90" y="558.40" font-size="7.2" fill="#222" textLength="19.2" lengthAdjust="spacingAndGlyphs">VMAT</text>
<line x1="62.00" y1="743.80" x2="65.80" y2="743.80" stroke="#222" stroke-width="1.1"/>
<text x="59.20" y="746.40" font-size="8.6" text-anchor="end" fill="#222">0</text>
<line x1="63.60" y1="725.40" x2="65.80" y2="725.40" stroke="#222" stroke-width="1.1"/>
<line x1="62.00" y1="707.00" x2="65.80" y2="707.00" stroke="#222" stroke-width="1.1"/>
<text x="59.20" y="709.60" font-size="8.6" text-anchor="end" fill="#222">1</text>
<line x1="63.60" y1="688.60" x2="65.80" y2="688.60" stroke="#222" stroke-width="1.1"/>
<line x1="62.00" y1="670.20" x2="65.80" y2="670.20" stroke="#222" stroke-width="1.1"/>
<text x="59.20" y="672.80" font-size="8.6" text-anchor="end" fill="#222">2</text>
<line x1="63.60" y1="651.80" x2="65.80" y2="651.80" stroke="#222" stroke-width="1.1"/>
<line x1="62.00" y1="633.40" x2="65.80" y2="633.40" stroke="#222" stroke-width="1.1"/>
<text x="59.20" y="636.00" font-size="8.6" text-anchor="end" fill="#222">3</text>
<line x1="63.60" y1="615.00" x2="65.80" y2="615.00" stroke="#222" stroke-width="1.1"/>
<line x1="62.00" y1="596.60" x2="65.80" y2="596.60" stroke="#222" stroke-width="1.1"/>
<text x="59.20" y="599.20" font-size="8.6" text-anchor="end" fill="#222">4</text>
<line x1="63.60" y1="578.20" x2="65.80" y2="578.20" stroke="#222" stroke-width="1.1"/>
<line x1="62.00" y1="559.80" x2="65.80" y2="559.80" stroke="#222" stroke-width="1.1"/>
<text x="59.20" y="562.40" font-size="8.6" text-anchor="end" fill="#222">5</text>
<line x1="63.60" y1="541.40" x2="65.80" y2="541.40" stroke="#222" stroke-width="1.1"/>
<line x1="65.80" y1="743.80" x2="65.80" y2="746.00" stroke="#222" stroke-width="1.1"/>
<line x1="70.82" y1="743.80" x2="70.82" y2="747.60" stroke="#222" stroke-width="1.1"/>
<text x="70.82" y="757.80" font-size="8.6" text-anchor="middle" fill="#222">1</text>
<line x1="75.83" y1="743.80" x2="75.83" y2="746.00" stroke="#222" stroke-width="1.1"/>
<line x1="80.85" y1="743.80" x2="80.85" y2="747.60" stroke="#222" stroke-width="1.1"/>
<text x="80.85" y="757.80" font-size="8.6" text-anchor="middle" fill="#222">2</text>
<line x1="85.86" y1="743.80" x2="85.86" y2="746.00" stroke="#222" stroke-width="1.1"/>
<line x1="90.88" y1="743.80" x2="90.88" y2="747.60" stroke="#222" stroke-width="1.1"/>
<text x="90.88" y="757.80" font-size="8.6" text-anchor="middle" fill="#222">3</text>
<line x1="95.90" y1="743.80" x2="95.90" y2="746.00" stroke="#222" stroke-width="1.1"/>
<line x1="100.91" y1="743.80" x2="100.91" y2="747.60" stroke="#222" stroke-width="1.1"/>
<text x="100.91" y="757.80" font-size="8.6" text-anchor="middle" fill="#222">4</text>
<line x1="105.93" y1="743.80" x2="105.93" y2="746.00" stroke="#222" stroke-width="1.1"/>
<line x1="110.94" y1="743.80" x2="110.94" y2="747.60" stroke="#222" stroke-width="1.1"/>
<text x="110.94" y="757.80" font-size="8.6" text-anchor="middle" fill="#222">5</text>
<line x1="115.96" y1="743.80" x2="115.96" y2="746.00" stroke="#222" stroke-width="1.1"/>
<line x1="120.98" y1="743.80" x2="120.98" y2="747.60" stroke="#222" stroke-width="1.1"/>
<text x="120.98" y="757.80" font-size="8.6" text-anchor="middle" fill="#222">6</text>
<line x1="125.99" y1="743.80" x2="125.99" y2="746.00" stroke="#222" stroke-width="1.1"/>
<line x1="131.01" y1="743.80" x2="131.01" y2="747.60" stroke="#222" stroke-width="1.1"/>
<text x="131.01" y="757.80" font-size="8.6" text-anchor="middle" fill="#222">7</text>
<line x1="136.02" y1="743.80" x2="136.02" y2="746.00" stroke="#222" stroke-width="1.1"/>
<line x1="141.04" y1="743.80" x2="141.04" y2="747.60" stroke="#222" stroke-width="1.1"/>
<text x="141.04" y="757.80" font-size="8.6" text-anchor="middle" fill="#222">8</text>
<line x1="146.06" y1="743.80" x2="146.06" y2="746.00" stroke="#222" stroke-width="1.1"/>
<line x1="151.07" y1="743.80" x2="151.07" y2="747.60" stroke="#222" stroke-width="1.1"/>
<text x="151.07" y="757.80" font-size="8.6" text-anchor="middle" fill="#222">9</text>
<line x1="156.09" y1="743.80" x2="156.09" y2="746.00" stroke="#222" stroke-width="1.1"/>
<line x1="161.10" y1="743.80" x2="161.10" y2="747.60" stroke="#222" stroke-width="1.1"/>
<text x="161.10" y="757.80" font-size="8.6" text-anchor="middle" fill="#222">10</text>
<line x1="166.12" y1="743.80" x2="166.12" y2="746.00" stroke="#222" stroke-width="1.1"/>
<line x1="171.14" y1="743.80" x2="171.14" y2="747.60" stroke="#222" stroke-width="1.1"/>
<text x="171.14" y="757.80" font-size="8.6" text-anchor="middle" fill="#222">11</text>
<line x1="176.15" y1="743.80" x2="176.15" y2="746.00" stroke="#222" stroke-width="1.1"/>
<line x1="181.17" y1="743.80" x2="181.17" y2="747.60" stroke="#222" stroke-width="1.1"/>
<text x="181.17" y="757.80" font-size="8.6" text-anchor="middle" fill="#222">12</text>
<line x1="186.18" y1="743.80" x2="186.18" y2="746.00" stroke="#222" stroke-width="1.1"/>
<line x1="191.20" y1="743.80" x2="191.20" y2="747.60" stroke="#222" stroke-width="1.1"/>
<text x="191.20" y="757.80" font-size="8.6" text-anchor="middle" fill="#222">13</text>
<line x1="196.22" y1="743.80" x2="196.22" y2="746.00" stroke="#222" stroke-width="1.1"/>
<line x1="201.23" y1="743.80" x2="201.23" y2="747.60" stroke="#222" stroke-width="1.1"/>
<text x="201.23" y="757.80" font-size="8.6" text-anchor="middle" fill="#222">14</text>
<line x1="206.25" y1="743.80" x2="206.25" y2="746.00" stroke="#222" stroke-width="1.1"/>
<line x1="211.26" y1="743.80" x2="211.26" y2="747.60" stroke="#222" stroke-width="1.1"/>
<text x="211.26" y="757.80" font-size="8.6" text-anchor="middle" fill="#222">15</text>
<line x1="216.28" y1="743.80" x2="216.28" y2="746.00" stroke="#222" stroke-width="1.1"/>
<line x1="221.30" y1="743.80" x2="221.30" y2="747.60" stroke="#222" stroke-width="1.1"/>
<text x="221.30" y="757.80" font-size="8.6" text-anchor="middle" fill="#222">16</text>
<line x1="226.31" y1="743.80" x2="226.31" y2="746.00" stroke="#222" stroke-width="1.1"/>
<line x1="231.33" y1="743.80" x2="231.33" y2="747.60" stroke="#222" stroke-width="1.1"/>
<text x="231.33" y="757.80" font-size="8.6" text-anchor="middle" fill="#222">17</text>
<line x1="236.34" y1="743.80" x2="236.34" y2="746.00" stroke="#222" stroke-width="1.1"/>
<line x1="241.36" y1="743.80" x2="241.36" y2="747.60" stroke="#222" stroke-width="1.1"/>
<text x="241.36" y="757.80" font-size="8.6" text-anchor="middle" fill="#222">18</text>
<line x1="246.38" y1="743.80" x2="246.38" y2="746.00" stroke="#222" stroke-width="1.1"/>
<line x1="251.39" y1="743.80" x2="251.39" y2="747.60" stroke="#222" stroke-width="1.1"/>
<text x="251.39" y="757.80" font-size="8.6" text-anchor="middle" fill="#222">19</text>
<line x1="256.41" y1="743.80" x2="256.41" y2="746.00" stroke="#222" stroke-width="1.1"/>
<line x1="261.42" y1="743.80" x2="261.42" y2="747.60" stroke="#222" stroke-width="1.1"/>
<text x="261.42" y="757.80" font-size="8.6" text-anchor="middle" fill="#222">20</text>
<line x1="266.44" y1="743.80" x2="266.44" y2="746.00" stroke="#222" stroke-width="1.1"/>
<line x1="271.46" y1="743.80" x2="271.46" y2="747.60" stroke="#222" stroke-width="1.1"/>
<text x="271.46" y="757.80" font-size="8.6" text-anchor="middle" fill="#222">21</text>
<line x1="276.47" y1="743.80" x2="276.47" y2="746.00" stroke="#222" stroke-width="1.1"/>
<line x1="281.49" y1="743.80" x2="281.49" y2="747.60" stroke="#222" stroke-width="1.1"/>
<text x="281.49" y="757.80" font-size="8.6" text-anchor="middle" fill="#222">22</text>
<line x1="286.50" y1="743.80" x2="286.50" y2="746.00" stroke="#222" stroke-width="1.1"/>
<line x1="291.52" y1="743.80" x2="291.52" y2="747.60" stroke="#222" stroke-width="1.1"/>
<text x="291.52" y="757.80" font-size="8.6" text-anchor="middle" fill="#222">23</text>
<line x1="296.54" y1="743.80" x2="296.54" y2="746.00" stroke="#222" stroke-width="1.1"/>
<line x1="301.55" y1="743.80" x2="301.55" y2="747.60" stroke="#222" stroke-width="1.1"/>
<text x="301.55" y="757.80" font-size="8.6" text-anchor="middle" fill="#222">24</text>
<line x1="306.57" y1="743.80" x2="306.57" y2="746.00" stroke="#222" stroke-width="1.1"/>
<line x1="311.58" y1="743.80" x2="311.58" y2="747.60" stroke="#222" stroke-width="1.1"/>
<text x="311.58" y="757.80" font-size="8.6" text-anchor="middle" fill="#222">25</text>
<line x1="316.60" y1="743.80" x2="316.60" y2="746.00" stroke="#222" stroke-width="1.1"/>
<line x1="65.80" y1="540.90" x2="65.80" y2="744.40" stroke="#3a3a3a" stroke-width="1.5"/>
<line x1="65.00" y1="743.80" x2="317.40" y2="743.80" stroke="#808080" stroke-width="1.3"/>
<polygon points="68.32,599.80 73.32,599.80 70.82,595.40" fill="#4f50a0"/>
<polygon points="78.35,697.90 83.35,697.90 80.85,693.50" fill="#4f50a0"/>
<polygon points="88.38,620.80 93.38,620.80 90.88,616.40" fill="#4f50a0"/>
<polygon points="98.41,561.90 103.41,561.90 100.91,557.50" fill="#4f50a0"/>
<polygon points="108.44,624.50 113.44,624.50 110.94,620.10" fill="#4f50a0"/>
<polygon points="118.48,720.00 123.48,720.00 120.98,715.60" fill="#4f50a0"/>
<polygon points="128.51,607.30 133.51,607.30 131.01,602.90" fill="#4f50a0"/>
<polygon points="138.54,620.80 143.54,620.80 141.04,616.40" fill="#4f50a0"/>
<polygon points="148.57,628.00 153.57,628.00 151.07,623.60" fill="#4f50a0"/>
<polygon points="158.60,609.70 163.60,609.70 161.10,605.30" fill="#4f50a0"/>
<polygon points="168.64,629.90 173.64,629.90 171.14,625.50" fill="#4f50a0"/>
<polygon points="178.67,624.50 183.67,624.50 181.17,620.10" fill="#4f50a0"/>
<polygon points="188.70,605.70 193.70,605.70 191.20,601.30" fill="#4f50a0"/>
<polygon points="198.73,649.80 203.73,649.80 201.23,645.40" fill="#4f50a0"/>
<polygon points="208.76,639.10 213.76,639.10 211.26,634.70" fill="#4f50a0"/>
<polygon points="218.80,635.30 223.80,635.30 221.30,630.90" fill="#4f50a0"/>
<polygon points="228.83,628.80 233.83,628.80 231.33,624.40" fill="#4f50a0"/>
<polygon points="238.86,617.00 243.86,617.00 241.36,612.60" fill="#4f50a0"/>
<polygon points="248.89,672.10 253.89,672.10 251.39,667.70" fill="#4f50a0"/>
<polygon points="258.92,602.50 263.92,602.50 261.42,598.10" fill="#4f50a0"/>
<polygon points="268.96,624.50 273.96,624.50 271.46,620.10" fill="#4f50a0"/>
<polygon points="278.99,671.00 283.99,671.00 281.49,666.60" fill="#4f50a0"/>
<polygon points="289.02,600.30 294.02,600.30 291.52,595.90" fill="#4f50a0"/>
<polygon points="299.05,734.20 304.05,734.20 301.55,729.80" fill="#4f50a0"/>
<polygon points="309.08,618.10 314.08,618.10 311.58,613.70" fill="#4f50a0"/>
<rect x="68.72" y="598.80" width="4.2" height="4.2" fill="#e8625d"/>
<polygon points="68.32,599.80 73.32,599.80 70.82,595.40" fill="#be2d5c" clip-path="url(#cE0)"/>
<rect x="78.75" y="715.80" width="4.2" height="4.2" fill="#e8625d"/>
<rect x="88.78" y="631.60" width="4.2" height="4.2" fill="#e8625d"/>
<rect x="98.81" y="616.80" width="4.2" height="4.2" fill="#e8625d"/>
<rect x="108.84" y="598.80" width="4.2" height="4.2" fill="#e8625d"/>
<rect x="118.88" y="716.60" width="4.2" height="4.2" fill="#e8625d"/>
<polygon points="118.48,720.00 123.48,720.00 120.98,715.60" fill="#be2d5c" clip-path="url(#cE5)"/>
<rect x="128.91" y="624.10" width="4.2" height="4.2" fill="#e8625d"/>
<rect x="138.94" y="649.90" width="4.2" height="4.2" fill="#e8625d"/>
<rect x="148.97" y="668.50" width="4.2" height="4.2" fill="#e8625d"/>
<rect x="159.00" y="638.60" width="4.2" height="4.2" fill="#e8625d"/>
<rect x="169.04" y="631.60" width="4.2" height="4.2" fill="#e8625d"/>
<rect x="179.07" y="734.30" width="4.2" height="4.2" fill="#e8625d"/>
<rect x="189.10" y="609.60" width="4.2" height="4.2" fill="#e8625d"/>
<rect x="199.13" y="690.50" width="4.2" height="4.2" fill="#e8625d"/>
<rect x="209.16" y="638.60" width="4.2" height="4.2" fill="#e8625d"/>
<polygon points="208.76,639.10 213.76,639.10 211.26,634.70" fill="#be2d5c" clip-path="url(#cE14)"/>
<rect x="219.20" y="605.80" width="4.2" height="4.2" fill="#e8625d"/>
<rect x="229.23" y="627.90" width="4.2" height="4.2" fill="#e8625d"/>
<polygon points="228.83,628.80 233.83,628.80 231.33,624.40" fill="#be2d5c" clip-path="url(#cE16)"/>
<rect x="239.26" y="595.10" width="4.2" height="4.2" fill="#e8625d"/>
<rect x="249.29" y="653.70" width="4.2" height="4.2" fill="#e8625d"/>
<rect x="259.32" y="601.80" width="4.2" height="4.2" fill="#e8625d"/>
<polygon points="258.92,602.50 263.92,602.50 261.42,598.10" fill="#be2d5c" clip-path="url(#cE19)"/>
<rect x="269.36" y="637.00" width="4.2" height="4.2" fill="#e8625d"/>
<rect x="279.39" y="683.00" width="4.2" height="4.2" fill="#e8625d"/>
<rect x="289.42" y="569.20" width="4.2" height="4.2" fill="#e8625d"/>
<rect x="299.45" y="716.60" width="4.2" height="4.2" fill="#e8625d"/>
<rect x="309.48" y="620.60" width="4.2" height="4.2" fill="#e8625d"/>
<text transform="translate(46.80,642.60) rotate(-90)" text-anchor="middle" font-size="10.6" fill="#000">Ipsilateral PBT V<tspan font-size="7.2" dy="2.3">10Gy</tspan><tspan dy="-2.3"> (cc)</tspan></text>
<text x="35.40" y="555.20" font-size="18.2" fill="#111">E</text>
<line x1="391.40" y1="563.89" x2="642.30" y2="563.89" stroke="#8a8a8a" stroke-width="1.0" stroke-dasharray="5 4.75" stroke-dashoffset="-0.5" opacity="1"/>
<line x1="391.40" y1="631.36" x2="642.30" y2="631.36" stroke="#8a8a8a" stroke-width="1.0" stroke-dasharray="5 4.75" stroke-dashoffset="-0.5" opacity="1"/>
<line x1="391.40" y1="676.33" x2="642.30" y2="676.33" stroke="#8a8a8a" stroke-width="1.0" stroke-dasharray="5 4.75" stroke-dashoffset="-0.5" opacity="1"/>
<line x1="391.40" y1="698.82" x2="642.30" y2="698.82" stroke="#8a8a8a" stroke-width="1.0" stroke-dasharray="5 4.75" stroke-dashoffset="-0.5" opacity="0.35"/>
<line x1="396.42" y1="542.00" x2="396.42" y2="743.80" stroke="#a8a8a8" stroke-width="1.1" stroke-dasharray="5 4.7" stroke-dashoffset="-8.00" opacity="0.25"/>
<line x1="416.49" y1="542.00" x2="416.49" y2="743.80" stroke="#a8a8a8" stroke-width="1.1" stroke-dasharray="5 4.7" stroke-dashoffset="-8.00" opacity="1"/>
<line x1="436.56" y1="542.00" x2="436.56" y2="743.80" stroke="#a8a8a8" stroke-width="1.1" stroke-dasharray="5 4.7" stroke-dashoffset="-8.00" opacity="1"/>
<line x1="456.63" y1="542.00" x2="456.63" y2="743.80" stroke="#a8a8a8" stroke-width="1.1" stroke-dasharray="5 4.7" stroke-dashoffset="-8.00" opacity="0.25"/>
<line x1="466.67" y1="542.00" x2="466.67" y2="743.80" stroke="#a8a8a8" stroke-width="1.1" stroke-dasharray="5 4.7" stroke-dashoffset="-8.00" opacity="1"/>
<line x1="486.74" y1="542.00" x2="486.74" y2="743.80" stroke="#a8a8a8" stroke-width="1.1" stroke-dasharray="5 4.7" stroke-dashoffset="-8.00" opacity="1"/>
<line x1="506.81" y1="542.00" x2="506.81" y2="743.80" stroke="#a8a8a8" stroke-width="1.1" stroke-dasharray="5 4.7" stroke-dashoffset="-8.00" opacity="0.45"/>
<line x1="516.85" y1="542.00" x2="516.85" y2="743.80" stroke="#a8a8a8" stroke-width="1.1" stroke-dasharray="5 4.7" stroke-dashoffset="-8.00" opacity="1"/>
<line x1="536.92" y1="542.00" x2="536.92" y2="743.80" stroke="#a8a8a8" stroke-width="1.1" stroke-dasharray="5 4.7" stroke-dashoffset="-8.00" opacity="1"/>
<line x1="556.99" y1="542.00" x2="556.99" y2="743.80" stroke="#a8a8a8" stroke-width="1.1" stroke-dasharray="5 4.7" stroke-dashoffset="-8.00" opacity="0.6"/>
<line x1="587.10" y1="542.00" x2="587.10" y2="743.80" stroke="#a8a8a8" stroke-width="1.1" stroke-dasharray="5 4.7" stroke-dashoffset="-8.00" opacity="1"/>
<line x1="607.17" y1="542.00" x2="607.17" y2="743.80" stroke="#a8a8a8" stroke-width="1.1" stroke-dasharray="5 4.7" stroke-dashoffset="-8.00" opacity="0.6"/>
<line x1="637.28" y1="542.00" x2="637.28" y2="743.80" stroke="#a8a8a8" stroke-width="1.1" stroke-dasharray="5 4.7" stroke-dashoffset="-8.00" opacity="1"/>
<line x1="642.30" y1="541.40" x2="642.30" y2="743.80" stroke="#cfcfcf" stroke-width="1"/>
<rect x="605.70" y="542.90" width="36.60" height="17.60" fill="#fcfbfa"/>
<line x1="642.30" y1="542.40" x2="642.30" y2="560.50" stroke="#9a9a9a" stroke-width="1"/>
<line x1="605.70" y1="542.40" x2="642.30" y2="542.40" stroke="#8c8c8c" stroke-width="1"/>
<line x1="605.70" y1="560.50" x2="642.30" y2="560.50" stroke="#8c8c8c" stroke-width="1"/>
<polygon points="610.80,549.10 615.60,549.10 613.20,544.90" fill="#4f50a0"/>
<rect x="611.10" y="553.40" width="4.2" height="4.2" fill="#e8625d"/>
<text x="621.30" y="550.10" font-size="7.2" fill="#222" textLength="17.6" lengthAdjust="spacingAndGlyphs">DCAT</text>
<text x="621.30" y="558.50" font-size="7.2" fill="#222" textLength="19.2" lengthAdjust="spacingAndGlyphs">VMAT</text>
<line x1="387.60" y1="743.80" x2="391.40" y2="743.80" stroke="#222" stroke-width="1.1"/>
<text x="384.80" y="746.40" font-size="8.6" text-anchor="end" fill="#222">35.0</text>
<line x1="389.20" y1="732.56" x2="391.40" y2="732.56" stroke="#222" stroke-width="1.1"/>
<line x1="387.60" y1="721.31" x2="391.40" y2="721.31" stroke="#222" stroke-width="1.1"/>
<text x="384.80" y="723.91" font-size="8.6" text-anchor="end" fill="#222">37.5</text>
<line x1="389.20" y1="710.07" x2="391.40" y2="710.07" stroke="#222" stroke-width="1.1"/>
<line x1="387.60" y1="698.82" x2="391.40" y2="698.82" stroke="#222" stroke-width="1.1"/>
<text x="384.80" y="701.42" font-size="8.6" text-anchor="end" fill="#222">40.0</text>
<line x1="389.20" y1="687.58" x2="391.40" y2="687.58" stroke="#222" stroke-width="1.1"/>
<line x1="387.60" y1="676.33" x2="391.40" y2="676.33" stroke="#222" stroke-width="1.1"/>
<text x="384.80" y="678.93" font-size="8.6" text-anchor="end" fill="#222">42.5</text>
<line x1="389.20" y1="665.09" x2="391.40" y2="665.09" stroke="#222" stroke-width="1.1"/>
<line x1="387.60" y1="653.84" x2="391.40" y2="653.84" stroke="#222" stroke-width="1.1"/>
<text x="384.80" y="656.44" font-size="8.6" text-anchor="end" fill="#222">45.0</text>
<line x1="389.20" y1="642.60" x2="391.40" y2="642.60" stroke="#222" stroke-width="1.1"/>
<line x1="387.60" y1="631.36" x2="391.40" y2="631.36" stroke="#222" stroke-width="1.1"/>
<text x="384.80" y="633.96" font-size="8.6" text-anchor="end" fill="#222">47.5</text>
<line x1="389.20" y1="620.11" x2="391.40" y2="620.11" stroke="#222" stroke-width="1.1"/>
<line x1="387.60" y1="608.87" x2="391.40" y2="608.87" stroke="#222" stroke-width="1.1"/>
<text x="384.80" y="611.47" font-size="8.6" text-anchor="end" fill="#222">50.0</text>
<line x1="389.20" y1="597.62" x2="391.40" y2="597.62" stroke="#222" stroke-width="1.1"/>
<line x1="387.60" y1="586.38" x2="391.40" y2="586.38" stroke="#222" stroke-width="1.1"/>
<text x="384.80" y="588.98" font-size="8.6" text-anchor="end" fill="#222">52.5</text>
<line x1="389.20" y1="575.13" x2="391.40" y2="575.13" stroke="#222" stroke-width="1.1"/>
<line x1="387.60" y1="563.89" x2="391.40" y2="563.89" stroke="#222" stroke-width="1.1"/>
<text x="384.80" y="566.49" font-size="8.6" text-anchor="end" fill="#222">55.0</text>
<line x1="389.20" y1="552.64" x2="391.40" y2="552.64" stroke="#222" stroke-width="1.1"/>
<line x1="387.60" y1="541.40" x2="391.40" y2="541.40" stroke="#222" stroke-width="1.1"/>
<text x="384.80" y="544.00" font-size="8.6" text-anchor="end" fill="#222">57.5</text>
<line x1="391.40" y1="743.80" x2="391.40" y2="746.00" stroke="#222" stroke-width="1.1"/>
<line x1="396.42" y1="743.80" x2="396.42" y2="747.60" stroke="#222" stroke-width="1.1"/>
<text x="396.42" y="757.80" font-size="8.6" text-anchor="middle" fill="#222">1</text>
<line x1="401.44" y1="743.80" x2="401.44" y2="746.00" stroke="#222" stroke-width="1.1"/>
<line x1="406.45" y1="743.80" x2="406.45" y2="747.60" stroke="#222" stroke-width="1.1"/>
<text x="406.45" y="757.80" font-size="8.6" text-anchor="middle" fill="#222">2</text>
<line x1="411.47" y1="743.80" x2="411.47" y2="746.00" stroke="#222" stroke-width="1.1"/>
<line x1="416.49" y1="743.80" x2="416.49" y2="747.60" stroke="#222" stroke-width="1.1"/>
<text x="416.49" y="757.80" font-size="8.6" text-anchor="middle" fill="#222">3</text>
<line x1="421.51" y1="743.80" x2="421.51" y2="746.00" stroke="#222" stroke-width="1.1"/>
<line x1="426.53" y1="743.80" x2="426.53" y2="747.60" stroke="#222" stroke-width="1.1"/>
<text x="426.53" y="757.80" font-size="8.6" text-anchor="middle" fill="#222">4</text>
<line x1="431.54" y1="743.80" x2="431.54" y2="746.00" stroke="#222" stroke-width="1.1"/>
<line x1="436.56" y1="743.80" x2="436.56" y2="747.60" stroke="#222" stroke-width="1.1"/>
<text x="436.56" y="757.80" font-size="8.6" text-anchor="middle" fill="#222">5</text>
<line x1="441.58" y1="743.80" x2="441.58" y2="746.00" stroke="#222" stroke-width="1.1"/>
<line x1="446.60" y1="743.80" x2="446.60" y2="747.60" stroke="#222" stroke-width="1.1"/>
<text x="446.60" y="757.80" font-size="8.6" text-anchor="middle" fill="#222">6</text>
<line x1="451.62" y1="743.80" x2="451.62" y2="746.00" stroke="#222" stroke-width="1.1"/>
<line x1="456.63" y1="743.80" x2="456.63" y2="747.60" stroke="#222" stroke-width="1.1"/>
<text x="456.63" y="757.80" font-size="8.6" text-anchor="middle" fill="#222">7</text>
<line x1="461.65" y1="743.80" x2="461.65" y2="746.00" stroke="#222" stroke-width="1.1"/>
<line x1="466.67" y1="743.80" x2="466.67" y2="747.60" stroke="#222" stroke-width="1.1"/>
<text x="466.67" y="757.80" font-size="8.6" text-anchor="middle" fill="#222">8</text>
<line x1="471.69" y1="743.80" x2="471.69" y2="746.00" stroke="#222" stroke-width="1.1"/>
<line x1="476.71" y1="743.80" x2="476.71" y2="747.60" stroke="#222" stroke-width="1.1"/>
<text x="476.71" y="757.80" font-size="8.6" text-anchor="middle" fill="#222">9</text>
<line x1="481.72" y1="743.80" x2="481.72" y2="746.00" stroke="#222" stroke-width="1.1"/>
<line x1="486.74" y1="743.80" x2="486.74" y2="747.60" stroke="#222" stroke-width="1.1"/>
<text x="486.74" y="757.80" font-size="8.6" text-anchor="middle" fill="#222">10</text>
<line x1="491.76" y1="743.80" x2="491.76" y2="746.00" stroke="#222" stroke-width="1.1"/>
<line x1="496.78" y1="743.80" x2="496.78" y2="747.60" stroke="#222" stroke-width="1.1"/>
<text x="496.78" y="757.80" font-size="8.6" text-anchor="middle" fill="#222">11</text>
<line x1="501.80" y1="743.80" x2="501.80" y2="746.00" stroke="#222" stroke-width="1.1"/>
<line x1="506.81" y1="743.80" x2="506.81" y2="747.60" stroke="#222" stroke-width="1.1"/>
<text x="506.81" y="757.80" font-size="8.6" text-anchor="middle" fill="#222">12</text>
<line x1="511.83" y1="743.80" x2="511.83" y2="746.00" stroke="#222" stroke-width="1.1"/>
<line x1="516.85" y1="743.80" x2="516.85" y2="747.60" stroke="#222" stroke-width="1.1"/>
<text x="516.85" y="757.80" font-size="8.6" text-anchor="middle" fill="#222">13</text>
<line x1="521.87" y1="743.80" x2="521.87" y2="746.00" stroke="#222" stroke-width="1.1"/>
<line x1="526.89" y1="743.80" x2="526.89" y2="747.60" stroke="#222" stroke-width="1.1"/>
<text x="526.89" y="757.80" font-size="8.6" text-anchor="middle" fill="#222">14</text>
<line x1="531.90" y1="743.80" x2="531.90" y2="746.00" stroke="#222" stroke-width="1.1"/>
<line x1="536.92" y1="743.80" x2="536.92" y2="747.60" stroke="#222" stroke-width="1.1"/>
<text x="536.92" y="757.80" font-size="8.6" text-anchor="middle" fill="#222">15</text>
<line x1="541.94" y1="743.80" x2="541.94" y2="746.00" stroke="#222" stroke-width="1.1"/>
<line x1="546.96" y1="743.80" x2="546.96" y2="747.60" stroke="#222" stroke-width="1.1"/>
<text x="546.96" y="757.80" font-size="8.6" text-anchor="middle" fill="#222">16</text>
<line x1="551.98" y1="743.80" x2="551.98" y2="746.00" stroke="#222" stroke-width="1.1"/>
<line x1="556.99" y1="743.80" x2="556.99" y2="747.60" stroke="#222" stroke-width="1.1"/>
<text x="556.99" y="757.80" font-size="8.6" text-anchor="middle" fill="#222">17</text>
<line x1="562.01" y1="743.80" x2="562.01" y2="746.00" stroke="#222" stroke-width="1.1"/>
<line x1="567.03" y1="743.80" x2="567.03" y2="747.60" stroke="#222" stroke-width="1.1"/>
<text x="567.03" y="757.80" font-size="8.6" text-anchor="middle" fill="#222">18</text>
<line x1="572.05" y1="743.80" x2="572.05" y2="746.00" stroke="#222" stroke-width="1.1"/>
<line x1="577.07" y1="743.80" x2="577.07" y2="747.60" stroke="#222" stroke-width="1.1"/>
<text x="577.07" y="757.80" font-size="8.6" text-anchor="middle" fill="#222">19</text>
<line x1="582.08" y1="743.80" x2="582.08" y2="746.00" stroke="#222" stroke-width="1.1"/>
<line x1="587.10" y1="743.80" x2="587.10" y2="747.60" stroke="#222" stroke-width="1.1"/>
<text x="587.10" y="757.80" font-size="8.6" text-anchor="middle" fill="#222">20</text>
<line x1="592.12" y1="743.80" x2="592.12" y2="746.00" stroke="#222" stroke-width="1.1"/>
<line x1="597.14" y1="743.80" x2="597.14" y2="747.60" stroke="#222" stroke-width="1.1"/>
<text x="597.14" y="757.80" font-size="8.6" text-anchor="middle" fill="#222">21</text>
<line x1="602.16" y1="743.80" x2="602.16" y2="746.00" stroke="#222" stroke-width="1.1"/>
<line x1="607.17" y1="743.80" x2="607.17" y2="747.60" stroke="#222" stroke-width="1.1"/>
<text x="607.17" y="757.80" font-size="8.6" text-anchor="middle" fill="#222">22</text>
<line x1="612.19" y1="743.80" x2="612.19" y2="746.00" stroke="#222" stroke-width="1.1"/>
<line x1="617.21" y1="743.80" x2="617.21" y2="747.60" stroke="#222" stroke-width="1.1"/>
<text x="617.21" y="757.80" font-size="8.6" text-anchor="middle" fill="#222">23</text>
<line x1="622.23" y1="743.80" x2="622.23" y2="746.00" stroke="#222" stroke-width="1.1"/>
<line x1="627.25" y1="743.80" x2="627.25" y2="747.60" stroke="#222" stroke-width="1.1"/>
<text x="627.25" y="757.80" font-size="8.6" text-anchor="middle" fill="#222">24</text>
<line x1="632.26" y1="743.80" x2="632.26" y2="746.00" stroke="#222" stroke-width="1.1"/>
<line x1="637.28" y1="743.80" x2="637.28" y2="747.60" stroke="#222" stroke-width="1.1"/>
<text x="637.28" y="757.80" font-size="8.6" text-anchor="middle" fill="#222">25</text>
<line x1="642.30" y1="743.80" x2="642.30" y2="746.00" stroke="#222" stroke-width="1.1"/>
<line x1="391.40" y1="540.90" x2="391.40" y2="744.40" stroke="#3a3a3a" stroke-width="1.5"/>
<line x1="390.60" y1="743.80" x2="643.10" y2="743.80" stroke="#808080" stroke-width="1.3"/>
<polygon points="393.92,592.30 398.92,592.30 396.42,587.90" fill="#4f50a0"/>
<polygon points="403.95,596.00 408.95,596.00 406.45,591.60" fill="#4f50a0"/>
<polygon points="413.99,636.90 418.99,636.90 416.49,632.50" fill="#4f50a0"/>
<polygon points="424.03,626.70 429.03,626.70 426.53,622.30" fill="#4f50a0"/>
<polygon points="434.06,637.40 439.06,637.40 436.56,633.00" fill="#4f50a0"/>
<polygon points="444.10,621.00 449.10,621.00 446.60,616.60" fill="#4f50a0"/>
<polygon points="454.13,709.80 459.13,709.80 456.63,705.40" fill="#4f50a0"/>
<polygon points="464.17,687.20 469.17,687.20 466.67,682.80" fill="#4f50a0"/>
<polygon points="474.21,628.00 479.21,628.00 476.71,623.60" fill="#4f50a0"/>
<polygon points="484.24,603.30 489.24,603.30 486.74,598.90" fill="#4f50a0"/>
<polygon points="494.28,662.40 499.28,662.40 496.78,658.00" fill="#4f50a0"/>
<polygon points="504.31,641.70 509.31,641.70 506.81,637.30" fill="#4f50a0"/>
<polygon points="514.35,655.70 519.35,655.70 516.85,651.30" fill="#4f50a0"/>
<polygon points="524.39,608.70 529.39,608.70 526.89,604.30" fill="#4f50a0"/>
<polygon points="534.42,620.80 539.42,620.80 536.92,616.40" fill="#4f50a0"/>
<polygon points="544.46,642.80 549.46,642.80 546.96,638.40" fill="#4f50a0"/>
<polygon points="554.49,670.00 559.49,670.00 556.99,665.60" fill="#4f50a0"/>
<polygon points="564.53,675.10 569.53,675.10 567.03,670.70" fill="#4f50a0"/>
<polygon points="574.57,680.50 579.57,680.50 577.07,676.10" fill="#4f50a0"/>
<polygon points="584.60,654.60 589.60,654.60 587.10,650.20" fill="#4f50a0"/>
<polygon points="594.64,680.50 599.64,680.50 597.14,676.10" fill="#4f50a0"/>
<polygon points="604.67,614.30 609.67,614.30 607.17,609.90" fill="#4f50a0"/>
<polygon points="614.71,630.70 619.71,630.70 617.21,626.30" fill="#4f50a0"/>
<polygon points="624.75,716.80 629.75,716.80 627.25,712.40" fill="#4f50a0"/>
<polygon points="634.78,650.90 639.78,650.90 637.28,646.50" fill="#4f50a0"/>
<rect x="394.32" y="582.10" width="4.2" height="4.2" fill="#e8625d"/>
<rect x="404.35" y="596.70" width="4.2" height="4.2" fill="#e8625d"/>
<rect x="414.39" y="576.20" width="4.2" height="4.2" fill="#e8625d"/>
<rect x="424.43" y="638.10" width="4.2" height="4.2" fill="#e8625d"/>
<rect x="434.46" y="624.90" width="4.2" height="4.2" fill="#e8625d"/>
<rect x="444.50" y="634.90" width="4.2" height="4.2" fill="#e8625d"/>
<rect x="454.53" y="602.00" width="4.2" height="4.2" fill="#e8625d"/>
<rect x="464.57" y="621.70" width="4.2" height="4.2" fill="#e8625d"/>
<rect x="474.61" y="681.40" width="4.2" height="4.2" fill="#e8625d"/>
<rect x="484.64" y="608.80" width="4.2" height="4.2" fill="#e8625d"/>
<rect x="494.68" y="559.60" width="4.2" height="4.2" fill="#e8625d"/>
<rect x="504.71" y="587.50" width="4.2" height="4.2" fill="#e8625d"/>
<rect x="514.75" y="585.40" width="4.2" height="4.2" fill="#e8625d"/>
<rect x="524.79" y="582.70" width="4.2" height="4.2" fill="#e8625d"/>
<rect x="534.82" y="624.90" width="4.2" height="4.2" fill="#e8625d"/>
<rect x="544.86" y="666.30" width="4.2" height="4.2" fill="#e8625d"/>
<rect x="554.89" y="645.90" width="4.2" height="4.2" fill="#e8625d"/>
<rect x="564.93" y="681.60" width="4.2" height="4.2" fill="#e8625d"/>
<rect x="574.97" y="709.90" width="4.2" height="4.2" fill="#e8625d"/>
<rect x="585.00" y="625.40" width="4.2" height="4.2" fill="#e8625d"/>
<rect x="595.04" y="724.70" width="4.2" height="4.2" fill="#e8625d"/>
<rect x="605.07" y="598.60" width="4.2" height="4.2" fill="#e8625d"/>
<rect x="615.11" y="627.30" width="4.2" height="4.2" fill="#e8625d"/>
<polygon points="614.71,630.70 619.71,630.70 617.21,626.30" fill="#be2d5c" clip-path="url(#cF22)"/>
<rect x="625.15" y="679.80" width="4.2" height="4.2" fill="#e8625d"/>
<rect x="635.18" y="583.80" width="4.2" height="4.2" fill="#e8625d"/>
<text transform="translate(362.40,642.60) rotate(-90)" text-anchor="middle" font-size="10.6" fill="#000">Ipsilateral PBT D<tspan font-size="7.2" dy="2.3">max</tspan><tspan dy="-2.3"> (Gy)</tspan></text>
<text x="349.90" y="553.60" font-size="18.2" fill="#111">F</text>
</svg>
</body></html>
